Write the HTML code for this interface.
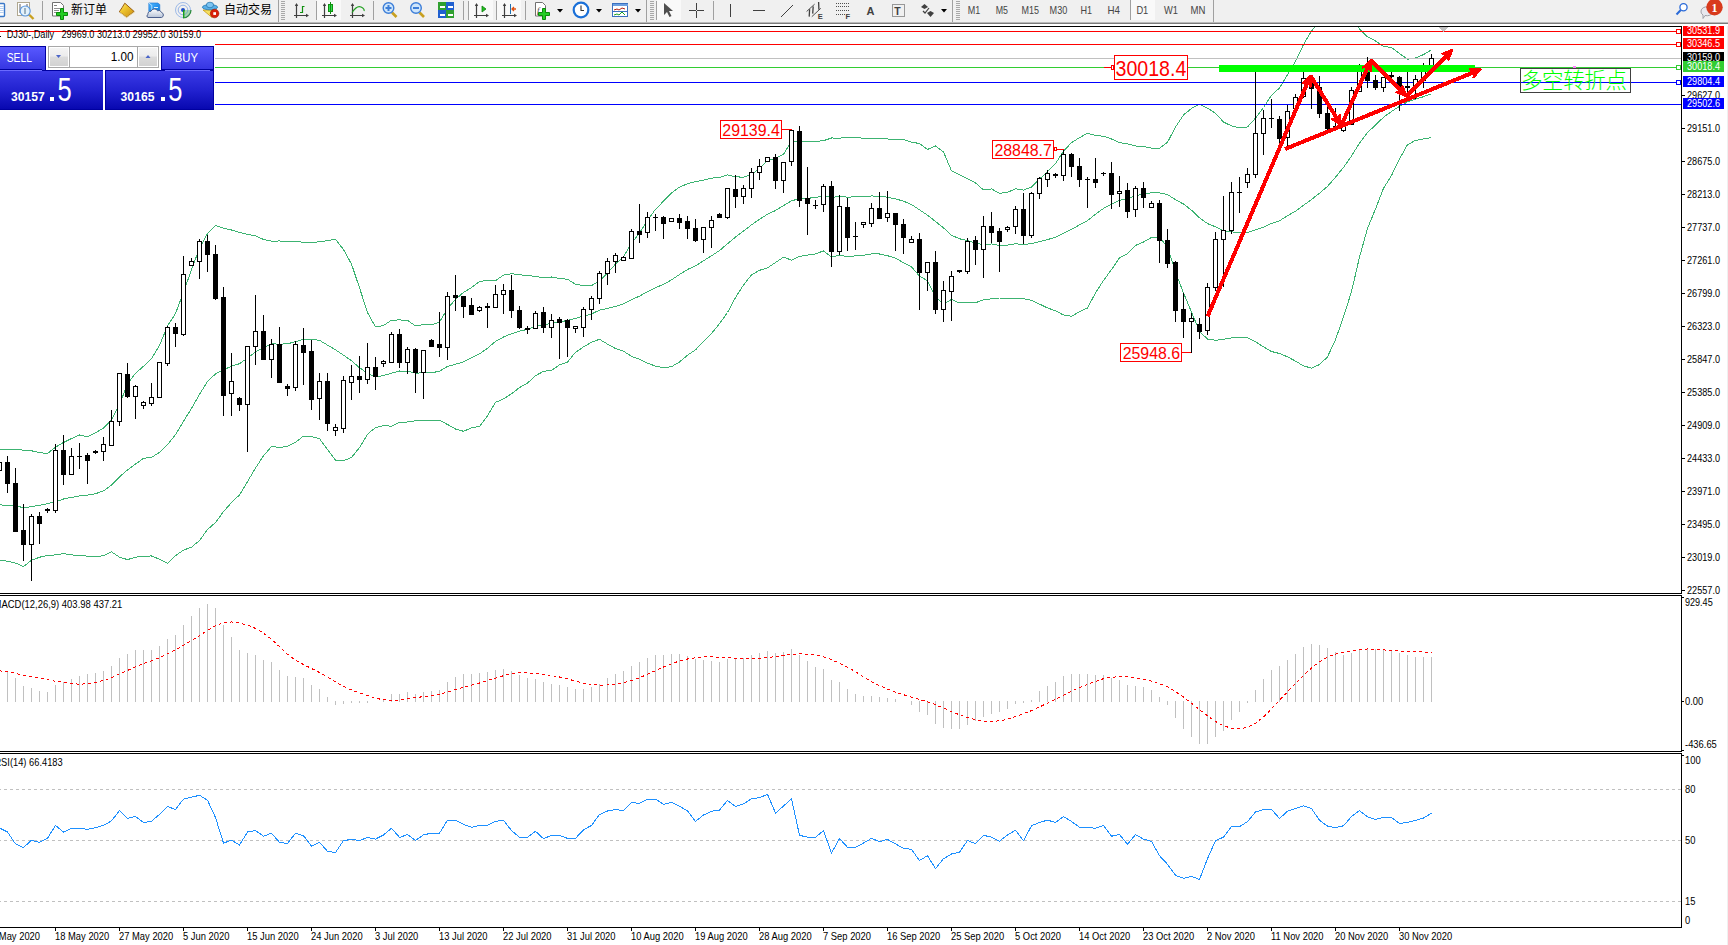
<!DOCTYPE html>
<html><head><meta charset="utf-8"><title>DJ30-,Daily</title>
<style>html,body{margin:0;padding:0;background:#fff;overflow:hidden}svg{display:block}text{white-space:pre}</style>
</head><body>
<svg width="1728" height="945" viewBox="0 0 1728 945">
<defs>
<clipPath id="cm"><rect x="0" y="27" width="1681" height="566"/></clipPath>
<clipPath id="cmacd"><rect x="0" y="596" width="1681" height="155"/></clipPath>
<clipPath id="crsi"><rect x="0" y="754" width="1681" height="173"/></clipPath>
</defs>
<rect x="0" y="0" width="1728" height="945" fill="#ffffff"/>
<g clip-path="url(#cm)" shape-rendering="crispEdges">
<polyline points="-0.5,449.0 7.5,449.0 15.5,449.7 23.5,450.1 31.5,450.8 39.5,452.5 47.5,453.6 55.5,447.1 63.5,442.5 71.5,438.5 79.5,435.0 87.5,436.9 95.5,432.7 103.5,428.0 111.5,419.9 119.5,404.7 127.5,383.8 135.5,373.3 143.5,366.3 151.5,358.7 159.5,345.5 167.5,325.9 175.5,313.6 183.5,292.2 191.5,269.6 199.5,248.1 207.5,233.5 215.5,225.3 223.5,228.3 231.5,230.0 239.5,232.4 247.5,234.3 255.5,235.8 263.5,239.5 271.5,241.1 279.5,241.0 287.5,241.3 295.5,241.1 303.5,242.4 311.5,242.2 319.5,241.9 327.5,240.5 335.5,239.4 343.5,249.5 351.5,264.1 359.5,287.8 367.5,312.5 375.5,326.9 383.5,325.5 391.5,320.2 399.5,319.9 407.5,320.4 415.5,325.8 423.5,324.7 431.5,324.9 439.5,322.1 447.5,308.5 455.5,299.4 463.5,292.4 471.5,287.5 479.5,281.5 487.5,280.5 495.5,280.7 503.5,275.1 511.5,273.7 519.5,274.8 527.5,275.4 535.5,276.5 543.5,277.6 551.5,277.0 559.5,278.5 567.5,279.2 575.5,284.3 583.5,285.5 591.5,285.5 599.5,281.1 607.5,272.8 615.5,264.1 623.5,256.6 631.5,243.3 639.5,233.0 647.5,220.2 655.5,209.3 663.5,201.2 671.5,192.9 679.5,187.1 687.5,183.7 695.5,181.7 703.5,180.2 711.5,178.1 719.5,177.5 727.5,174.8 735.5,176.8 743.5,177.2 751.5,174.7 759.5,168.5 767.5,160.5 775.5,158.5 783.5,154.3 791.5,141.2 799.5,141.5 807.5,141.4 815.5,141.4 823.5,140.7 831.5,138.0 839.5,138.1 847.5,137.5 855.5,137.8 863.5,138.1 871.5,138.2 879.5,138.2 887.5,139.0 895.5,139.3 903.5,139.6 911.5,142.2 919.5,143.5 927.5,149.4 935.5,146.0 943.5,151.9 951.5,170.9 959.5,174.7 967.5,178.6 975.5,182.9 983.5,190.0 991.5,188.9 999.5,193.3 1007.5,192.3 1015.5,188.8 1023.5,190.1 1031.5,187.1 1039.5,179.2 1047.5,171.3 1055.5,163.6 1063.5,151.2 1071.5,142.6 1079.5,137.7 1087.5,133.2 1095.5,135.5 1103.5,136.2 1111.5,139.0 1119.5,142.6 1127.5,143.9 1135.5,146.0 1143.5,146.6 1151.5,148.1 1159.5,148.2 1167.5,142.3 1175.5,127.1 1183.5,115.0 1191.5,108.4 1199.5,104.3 1207.5,108.1 1215.5,113.3 1223.5,122.0 1231.5,125.9 1239.5,127.7 1247.5,127.0 1255.5,118.1 1263.5,107.5 1271.5,95.3 1279.5,88.0 1287.5,74.8 1295.5,61.3 1303.5,44.6 1311.5,31.0 1319.5,21.7 1327.5,15.9 1335.5,14.8 1343.5,17.9 1351.5,20.3 1359.5,28.8 1367.5,36.8 1375.5,40.9 1383.5,46.4 1391.5,47.5 1399.5,53.5 1407.5,59.2 1415.5,58.0 1423.5,54.6 1431.5,49.8" fill="none" stroke="#3cb371" stroke-width="1"/>
<polyline points="-0.5,504.9 7.5,505.3 15.5,506.0 23.5,507.6 31.5,506.7 39.5,505.3 47.5,503.7 55.5,501.8 63.5,499.0 71.5,497.4 79.5,496.0 87.5,495.1 95.5,493.7 103.5,490.9 111.5,485.1 119.5,476.9 127.5,469.9 135.5,464.1 143.5,458.3 151.5,457.4 159.5,452.4 167.5,444.6 175.5,434.6 183.5,421.2 191.5,408.4 199.5,394.3 207.5,381.5 215.5,373.9 223.5,369.9 231.5,366.2 239.5,363.7 247.5,358.0 255.5,351.9 263.5,347.6 271.5,343.8 279.5,344.2 287.5,343.8 295.5,341.7 303.5,339.2 311.5,339.3 319.5,340.3 327.5,345.1 335.5,349.8 343.5,355.1 351.5,360.8 359.5,367.7 367.5,373.3 375.5,377.2 383.5,375.5 391.5,373.2 399.5,371.0 407.5,371.2 415.5,373.2 423.5,372.8 431.5,372.9 439.5,371.1 447.5,366.5 455.5,364.2 463.5,361.9 471.5,357.6 479.5,353.9 487.5,348.2 495.5,341.5 503.5,337.0 511.5,333.7 519.5,331.2 527.5,329.3 535.5,326.1 543.5,324.4 551.5,323.7 559.5,321.7 567.5,320.6 575.5,318.3 583.5,316.2 591.5,313.9 599.5,310.2 607.5,308.4 615.5,306.4 623.5,303.9 631.5,299.8 639.5,296.1 647.5,291.6 655.5,287.7 663.5,284.4 671.5,279.8 679.5,274.5 687.5,269.5 695.5,265.8 703.5,260.8 711.5,255.8 719.5,250.6 727.5,243.7 735.5,237.1 743.5,231.1 751.5,224.8 759.5,219.4 767.5,214.2 775.5,210.5 783.5,205.7 791.5,200.7 799.5,198.9 807.5,198.2 815.5,197.7 823.5,195.8 831.5,197.4 839.5,196.6 847.5,197.1 855.5,196.9 863.5,196.6 871.5,196.0 879.5,196.1 887.5,197.3 895.5,198.8 903.5,201.2 911.5,204.5 919.5,209.8 927.5,215.1 935.5,221.5 943.5,227.9 951.5,235.2 959.5,238.8 967.5,240.6 975.5,242.9 983.5,244.8 991.5,243.9 999.5,245.6 1007.5,245.1 1015.5,243.8 1023.5,244.4 1031.5,243.7 1039.5,241.7 1047.5,239.6 1055.5,237.2 1063.5,233.1 1071.5,229.4 1079.5,224.8 1087.5,220.6 1095.5,214.2 1103.5,208.4 1111.5,204.3 1119.5,200.3 1127.5,198.8 1135.5,195.7 1143.5,194.3 1151.5,192.8 1159.5,192.8 1167.5,194.6 1175.5,199.7 1183.5,204.0 1191.5,210.2 1199.5,217.8 1207.5,223.6 1215.5,226.8 1223.5,230.6 1231.5,231.9 1239.5,232.6 1247.5,232.4 1255.5,229.9 1263.5,227.2 1271.5,223.4 1279.5,220.8 1287.5,215.8 1295.5,211.2 1303.5,205.3 1311.5,199.5 1319.5,193.2 1327.5,186.4 1335.5,177.2 1343.5,167.4 1351.5,156.0 1359.5,143.0 1367.5,132.6 1375.5,125.0 1383.5,117.3 1391.5,111.5 1399.5,106.3 1407.5,101.9 1415.5,99.2 1423.5,96.7 1431.5,93.7" fill="none" stroke="#3cb371" stroke-width="1"/>
<polyline points="-0.5,560.3 7.5,561.2 15.5,563.1 23.5,566.5 31.5,560.3 39.5,557.2 47.5,555.6 55.5,554.9 63.5,553.7 71.5,554.9 79.5,555.6 87.5,556.1 95.5,556.8 103.5,555.6 111.5,551.9 119.5,557.2 127.5,559.6 135.5,557.2 143.5,556.1 151.5,556.0 159.5,559.2 167.5,563.2 175.5,555.7 183.5,550.1 191.5,547.2 199.5,540.5 207.5,529.5 215.5,522.5 223.5,511.6 231.5,502.5 239.5,494.9 247.5,481.6 255.5,468.1 263.5,455.8 271.5,446.5 279.5,447.5 287.5,446.3 295.5,442.3 303.5,436.1 311.5,436.5 319.5,438.6 327.5,449.6 335.5,460.1 343.5,460.6 351.5,457.5 359.5,447.6 367.5,434.2 375.5,427.5 383.5,425.6 391.5,426.2 399.5,422.2 407.5,422.0 415.5,420.7 423.5,420.9 431.5,420.9 439.5,420.1 447.5,424.5 455.5,429.0 463.5,431.3 471.5,427.8 479.5,426.4 487.5,415.8 495.5,402.4 503.5,398.9 511.5,393.8 519.5,387.6 527.5,383.1 535.5,375.7 543.5,371.3 551.5,370.4 559.5,364.9 567.5,362.0 575.5,352.3 583.5,346.9 591.5,342.2 599.5,339.3 607.5,344.1 615.5,348.6 623.5,351.2 631.5,356.3 639.5,359.3 647.5,363.1 655.5,366.2 663.5,367.6 671.5,366.7 679.5,362.0 687.5,355.2 695.5,349.9 703.5,341.5 711.5,333.5 719.5,323.7 727.5,312.5 735.5,297.5 743.5,285.0 751.5,274.9 759.5,270.3 767.5,267.9 775.5,262.5 783.5,257.1 791.5,260.1 799.5,256.4 807.5,255.1 815.5,253.9 823.5,250.9 831.5,256.9 839.5,255.2 847.5,256.6 855.5,255.9 863.5,255.2 871.5,253.9 879.5,254.0 887.5,255.7 895.5,258.2 903.5,262.7 911.5,266.8 919.5,276.2 927.5,280.7 935.5,296.9 943.5,304.0 951.5,299.5 959.5,302.9 967.5,302.7 975.5,302.8 983.5,299.7 991.5,298.9 999.5,298.0 1007.5,298.0 1015.5,298.7 1023.5,298.7 1031.5,300.2 1039.5,304.1 1047.5,307.9 1055.5,310.8 1063.5,315.0 1071.5,316.2 1079.5,311.8 1087.5,308.0 1095.5,292.9 1103.5,280.5 1111.5,269.6 1119.5,257.9 1127.5,253.6 1135.5,245.4 1143.5,242.0 1151.5,237.5 1159.5,237.4 1167.5,246.9 1175.5,272.2 1183.5,292.9 1191.5,312.0 1199.5,331.4 1207.5,339.1 1215.5,340.3 1223.5,339.2 1231.5,338.0 1239.5,337.5 1247.5,337.7 1255.5,341.8 1263.5,346.9 1271.5,351.5 1279.5,353.5 1287.5,356.8 1295.5,361.1 1303.5,365.9 1311.5,368.1 1319.5,364.6 1327.5,356.9 1335.5,339.6 1343.5,316.9 1351.5,291.7 1359.5,257.1 1367.5,228.4 1375.5,209.0 1383.5,188.3 1391.5,175.5 1399.5,159.0 1407.5,144.7 1415.5,140.4 1423.5,138.9 1431.5,137.7" fill="none" stroke="#3cb371" stroke-width="1"/>
<rect x="0" y="31" width="1681" height="1" fill="#ff0000"/>
<rect x="0" y="44" width="1681" height="1" fill="#ff0000"/>
<rect x="0" y="58" width="1681" height="1" fill="#c0c0c0"/>
<rect x="0" y="67" width="1681" height="1" fill="#32cd32"/>
<rect x="0" y="82" width="1681" height="1" fill="#0000ff"/>
<rect x="0" y="104" width="1681" height="1" fill="#0000ff"/>
<rect x="-1" y="462" width="1" height="10" fill="#000"/>
<rect x="-3" y="462" width="5" height="9" fill="#000"/>
<rect x="-2" y="463" width="3" height="7" fill="#fff"/>
<rect x="7" y="456" width="1" height="37" fill="#000"/>
<rect x="5" y="462" width="5" height="22" fill="#000"/>
<rect x="15" y="468" width="1" height="64" fill="#000"/>
<rect x="13" y="483" width="5" height="49" fill="#000"/>
<rect x="23" y="504" width="1" height="57" fill="#000"/>
<rect x="21" y="530" width="5" height="15" fill="#000"/>
<rect x="31" y="514" width="1" height="67" fill="#000"/>
<rect x="29" y="516" width="5" height="29" fill="#000"/>
<rect x="30" y="517" width="3" height="27" fill="#fff"/>
<rect x="39" y="512" width="1" height="32" fill="#000"/>
<rect x="37" y="516" width="5" height="8" fill="#000"/>
<rect x="47" y="508" width="1" height="5" fill="#000"/>
<rect x="45" y="509" width="5" height="2" fill="#000"/>
<rect x="55" y="444" width="1" height="69" fill="#000"/>
<rect x="53" y="450" width="5" height="61" fill="#000"/>
<rect x="54" y="451" width="3" height="59" fill="#fff"/>
<rect x="63" y="435" width="1" height="50" fill="#000"/>
<rect x="61" y="450" width="5" height="25" fill="#000"/>
<rect x="71" y="448" width="1" height="27" fill="#000"/>
<rect x="69" y="456" width="5" height="19" fill="#000"/>
<rect x="70" y="457" width="3" height="17" fill="#fff"/>
<rect x="79" y="443" width="1" height="26" fill="#000"/>
<rect x="77" y="456" width="5" height="1" fill="#000"/>
<rect x="87" y="453" width="1" height="31" fill="#000"/>
<rect x="85" y="455" width="5" height="6" fill="#000"/>
<rect x="95" y="450" width="1" height="4" fill="#000"/>
<rect x="93" y="451" width="5" height="2" fill="#000"/>
<rect x="103" y="437" width="1" height="24" fill="#000"/>
<rect x="101" y="444" width="5" height="8" fill="#000"/>
<rect x="102" y="445" width="3" height="6" fill="#fff"/>
<rect x="111" y="410" width="1" height="36" fill="#000"/>
<rect x="109" y="421" width="5" height="25" fill="#000"/>
<rect x="110" y="422" width="3" height="23" fill="#fff"/>
<rect x="119" y="373" width="1" height="53" fill="#000"/>
<rect x="117" y="373" width="5" height="49" fill="#000"/>
<rect x="118" y="374" width="3" height="47" fill="#fff"/>
<rect x="127" y="363" width="1" height="35" fill="#000"/>
<rect x="125" y="374" width="5" height="23" fill="#000"/>
<rect x="135" y="385" width="1" height="34" fill="#000"/>
<rect x="133" y="386" width="5" height="11" fill="#000"/>
<rect x="134" y="387" width="3" height="9" fill="#fff"/>
<rect x="143" y="401" width="1" height="8" fill="#000"/>
<rect x="141" y="402" width="5" height="4" fill="#000"/>
<rect x="142" y="403" width="3" height="2" fill="#fff"/>
<rect x="151" y="383" width="1" height="23" fill="#000"/>
<rect x="149" y="397" width="5" height="7" fill="#000"/>
<rect x="150" y="398" width="3" height="5" fill="#fff"/>
<rect x="159" y="362" width="1" height="36" fill="#000"/>
<rect x="157" y="362" width="5" height="36" fill="#000"/>
<rect x="158" y="363" width="3" height="34" fill="#fff"/>
<rect x="167" y="326" width="1" height="40" fill="#000"/>
<rect x="165" y="327" width="5" height="37" fill="#000"/>
<rect x="166" y="328" width="3" height="35" fill="#fff"/>
<rect x="175" y="323" width="1" height="24" fill="#000"/>
<rect x="173" y="327" width="5" height="7" fill="#000"/>
<rect x="183" y="256" width="1" height="80" fill="#000"/>
<rect x="181" y="274" width="5" height="61" fill="#000"/>
<rect x="182" y="275" width="3" height="59" fill="#fff"/>
<rect x="191" y="258" width="1" height="8" fill="#000"/>
<rect x="189" y="261" width="5" height="5" fill="#000"/>
<rect x="190" y="262" width="3" height="3" fill="#fff"/>
<rect x="199" y="239" width="1" height="40" fill="#000"/>
<rect x="197" y="241" width="5" height="21" fill="#000"/>
<rect x="198" y="242" width="3" height="19" fill="#fff"/>
<rect x="207" y="235" width="1" height="37" fill="#000"/>
<rect x="205" y="241" width="5" height="14" fill="#000"/>
<rect x="215" y="245" width="1" height="55" fill="#000"/>
<rect x="213" y="254" width="5" height="45" fill="#000"/>
<rect x="223" y="287" width="1" height="129" fill="#000"/>
<rect x="221" y="297" width="5" height="99" fill="#000"/>
<rect x="231" y="353" width="1" height="63" fill="#000"/>
<rect x="229" y="381" width="5" height="13" fill="#000"/>
<rect x="230" y="382" width="3" height="11" fill="#fff"/>
<rect x="239" y="397" width="1" height="14" fill="#000"/>
<rect x="237" y="398" width="5" height="7" fill="#000"/>
<rect x="247" y="346" width="1" height="106" fill="#000"/>
<rect x="245" y="346" width="5" height="59" fill="#000"/>
<rect x="246" y="347" width="3" height="57" fill="#fff"/>
<rect x="255" y="295" width="1" height="70" fill="#000"/>
<rect x="253" y="331" width="5" height="16" fill="#000"/>
<rect x="254" y="332" width="3" height="14" fill="#fff"/>
<rect x="263" y="315" width="1" height="45" fill="#000"/>
<rect x="261" y="331" width="5" height="29" fill="#000"/>
<rect x="271" y="339" width="1" height="39" fill="#000"/>
<rect x="269" y="344" width="5" height="16" fill="#000"/>
<rect x="270" y="345" width="3" height="14" fill="#fff"/>
<rect x="279" y="327" width="1" height="56" fill="#000"/>
<rect x="277" y="344" width="5" height="39" fill="#000"/>
<rect x="287" y="384" width="1" height="12" fill="#000"/>
<rect x="285" y="386" width="5" height="3" fill="#000"/>
<rect x="295" y="341" width="1" height="50" fill="#000"/>
<rect x="293" y="344" width="5" height="44" fill="#000"/>
<rect x="294" y="345" width="3" height="42" fill="#fff"/>
<rect x="303" y="328" width="1" height="57" fill="#000"/>
<rect x="301" y="345" width="5" height="8" fill="#000"/>
<rect x="311" y="340" width="1" height="70" fill="#000"/>
<rect x="309" y="351" width="5" height="49" fill="#000"/>
<rect x="319" y="373" width="1" height="47" fill="#000"/>
<rect x="317" y="381" width="5" height="18" fill="#000"/>
<rect x="318" y="382" width="3" height="16" fill="#fff"/>
<rect x="327" y="373" width="1" height="58" fill="#000"/>
<rect x="325" y="381" width="5" height="43" fill="#000"/>
<rect x="335" y="424" width="1" height="12" fill="#000"/>
<rect x="333" y="427" width="5" height="4" fill="#000"/>
<rect x="334" y="428" width="3" height="2" fill="#fff"/>
<rect x="343" y="376" width="1" height="57" fill="#000"/>
<rect x="341" y="380" width="5" height="49" fill="#000"/>
<rect x="342" y="381" width="3" height="47" fill="#fff"/>
<rect x="351" y="365" width="1" height="35" fill="#000"/>
<rect x="349" y="376" width="5" height="7" fill="#000"/>
<rect x="350" y="377" width="3" height="5" fill="#fff"/>
<rect x="359" y="356" width="1" height="37" fill="#000"/>
<rect x="357" y="376" width="5" height="4" fill="#000"/>
<rect x="367" y="343" width="1" height="41" fill="#000"/>
<rect x="365" y="367" width="5" height="13" fill="#000"/>
<rect x="366" y="368" width="3" height="11" fill="#fff"/>
<rect x="375" y="357" width="1" height="33" fill="#000"/>
<rect x="373" y="367" width="5" height="10" fill="#000"/>
<rect x="383" y="360" width="1" height="7" fill="#000"/>
<rect x="381" y="361" width="5" height="3" fill="#000"/>
<rect x="382" y="362" width="3" height="1" fill="#fff"/>
<rect x="391" y="332" width="1" height="31" fill="#000"/>
<rect x="389" y="334" width="5" height="29" fill="#000"/>
<rect x="390" y="335" width="3" height="27" fill="#fff"/>
<rect x="399" y="329" width="1" height="39" fill="#000"/>
<rect x="397" y="334" width="5" height="29" fill="#000"/>
<rect x="407" y="347" width="1" height="27" fill="#000"/>
<rect x="405" y="349" width="5" height="14" fill="#000"/>
<rect x="406" y="350" width="3" height="12" fill="#fff"/>
<rect x="415" y="348" width="1" height="45" fill="#000"/>
<rect x="413" y="349" width="5" height="24" fill="#000"/>
<rect x="423" y="350" width="1" height="49" fill="#000"/>
<rect x="421" y="350" width="5" height="23" fill="#000"/>
<rect x="422" y="351" width="3" height="21" fill="#fff"/>
<rect x="431" y="339" width="1" height="8" fill="#000"/>
<rect x="429" y="340" width="5" height="7" fill="#000"/>
<rect x="439" y="312" width="1" height="45" fill="#000"/>
<rect x="437" y="344" width="5" height="4" fill="#000"/>
<rect x="447" y="292" width="1" height="68" fill="#000"/>
<rect x="445" y="296" width="5" height="52" fill="#000"/>
<rect x="446" y="297" width="3" height="50" fill="#fff"/>
<rect x="455" y="275" width="1" height="36" fill="#000"/>
<rect x="453" y="295" width="5" height="3" fill="#000"/>
<rect x="463" y="296" width="1" height="22" fill="#000"/>
<rect x="461" y="296" width="5" height="11" fill="#000"/>
<rect x="471" y="298" width="1" height="17" fill="#000"/>
<rect x="469" y="305" width="5" height="10" fill="#000"/>
<rect x="479" y="306" width="1" height="6" fill="#000"/>
<rect x="477" y="307" width="5" height="4" fill="#000"/>
<rect x="478" y="308" width="3" height="2" fill="#fff"/>
<rect x="487" y="303" width="1" height="25" fill="#000"/>
<rect x="485" y="306" width="5" height="2" fill="#000"/>
<rect x="495" y="285" width="1" height="23" fill="#000"/>
<rect x="493" y="294" width="5" height="14" fill="#000"/>
<rect x="494" y="295" width="3" height="12" fill="#fff"/>
<rect x="503" y="284" width="1" height="30" fill="#000"/>
<rect x="501" y="290" width="5" height="5" fill="#000"/>
<rect x="502" y="291" width="3" height="3" fill="#fff"/>
<rect x="511" y="275" width="1" height="43" fill="#000"/>
<rect x="509" y="290" width="5" height="21" fill="#000"/>
<rect x="519" y="306" width="1" height="23" fill="#000"/>
<rect x="517" y="310" width="5" height="18" fill="#000"/>
<rect x="527" y="326" width="1" height="8" fill="#000"/>
<rect x="525" y="328" width="5" height="2" fill="#000"/>
<rect x="535" y="311" width="1" height="18" fill="#000"/>
<rect x="533" y="313" width="5" height="16" fill="#000"/>
<rect x="534" y="314" width="3" height="14" fill="#fff"/>
<rect x="543" y="307" width="1" height="26" fill="#000"/>
<rect x="541" y="312" width="5" height="16" fill="#000"/>
<rect x="551" y="314" width="1" height="24" fill="#000"/>
<rect x="549" y="320" width="5" height="8" fill="#000"/>
<rect x="550" y="321" width="3" height="6" fill="#fff"/>
<rect x="559" y="317" width="1" height="42" fill="#000"/>
<rect x="557" y="319" width="5" height="4" fill="#000"/>
<rect x="567" y="319" width="1" height="38" fill="#000"/>
<rect x="565" y="320" width="5" height="8" fill="#000"/>
<rect x="575" y="326" width="1" height="7" fill="#000"/>
<rect x="573" y="326" width="5" height="3" fill="#000"/>
<rect x="574" y="327" width="3" height="1" fill="#fff"/>
<rect x="583" y="307" width="1" height="30" fill="#000"/>
<rect x="581" y="309" width="5" height="19" fill="#000"/>
<rect x="582" y="310" width="3" height="17" fill="#fff"/>
<rect x="591" y="296" width="1" height="24" fill="#000"/>
<rect x="589" y="298" width="5" height="12" fill="#000"/>
<rect x="590" y="299" width="3" height="10" fill="#fff"/>
<rect x="599" y="271" width="1" height="33" fill="#000"/>
<rect x="597" y="273" width="5" height="26" fill="#000"/>
<rect x="598" y="274" width="3" height="24" fill="#fff"/>
<rect x="607" y="258" width="1" height="27" fill="#000"/>
<rect x="605" y="261" width="5" height="13" fill="#000"/>
<rect x="606" y="262" width="3" height="11" fill="#fff"/>
<rect x="615" y="253" width="1" height="20" fill="#000"/>
<rect x="613" y="255" width="5" height="7" fill="#000"/>
<rect x="614" y="256" width="3" height="5" fill="#fff"/>
<rect x="623" y="256" width="1" height="5" fill="#000"/>
<rect x="621" y="257" width="5" height="4" fill="#000"/>
<rect x="622" y="258" width="3" height="2" fill="#fff"/>
<rect x="631" y="229" width="1" height="30" fill="#000"/>
<rect x="629" y="231" width="5" height="28" fill="#000"/>
<rect x="630" y="232" width="3" height="26" fill="#fff"/>
<rect x="639" y="204" width="1" height="39" fill="#000"/>
<rect x="637" y="231" width="5" height="4" fill="#000"/>
<rect x="647" y="212" width="1" height="26" fill="#000"/>
<rect x="645" y="217" width="5" height="16" fill="#000"/>
<rect x="646" y="218" width="3" height="14" fill="#fff"/>
<rect x="655" y="214" width="1" height="17" fill="#000"/>
<rect x="653" y="217" width="5" height="1" fill="#000"/>
<rect x="663" y="216" width="1" height="23" fill="#000"/>
<rect x="661" y="217" width="5" height="7" fill="#000"/>
<rect x="671" y="218" width="1" height="4" fill="#000"/>
<rect x="669" y="218" width="5" height="4" fill="#000"/>
<rect x="670" y="219" width="3" height="2" fill="#fff"/>
<rect x="679" y="214" width="1" height="15" fill="#000"/>
<rect x="677" y="218" width="5" height="5" fill="#000"/>
<rect x="687" y="216" width="1" height="23" fill="#000"/>
<rect x="685" y="221" width="5" height="8" fill="#000"/>
<rect x="695" y="219" width="1" height="23" fill="#000"/>
<rect x="693" y="228" width="5" height="13" fill="#000"/>
<rect x="703" y="227" width="1" height="26" fill="#000"/>
<rect x="701" y="227" width="5" height="13" fill="#000"/>
<rect x="702" y="228" width="3" height="11" fill="#fff"/>
<rect x="711" y="216" width="1" height="32" fill="#000"/>
<rect x="709" y="220" width="5" height="8" fill="#000"/>
<rect x="710" y="221" width="3" height="6" fill="#fff"/>
<rect x="719" y="213" width="1" height="5" fill="#000"/>
<rect x="717" y="214" width="5" height="4" fill="#000"/>
<rect x="727" y="188" width="1" height="31" fill="#000"/>
<rect x="725" y="188" width="5" height="30" fill="#000"/>
<rect x="726" y="189" width="3" height="28" fill="#fff"/>
<rect x="735" y="175" width="1" height="33" fill="#000"/>
<rect x="733" y="189" width="5" height="8" fill="#000"/>
<rect x="743" y="185" width="1" height="19" fill="#000"/>
<rect x="741" y="188" width="5" height="9" fill="#000"/>
<rect x="742" y="189" width="3" height="7" fill="#fff"/>
<rect x="751" y="168" width="1" height="30" fill="#000"/>
<rect x="749" y="172" width="5" height="17" fill="#000"/>
<rect x="750" y="173" width="3" height="15" fill="#fff"/>
<rect x="759" y="159" width="1" height="21" fill="#000"/>
<rect x="757" y="166" width="5" height="7" fill="#000"/>
<rect x="758" y="167" width="3" height="5" fill="#fff"/>
<rect x="767" y="157" width="1" height="5" fill="#000"/>
<rect x="765" y="157" width="5" height="5" fill="#000"/>
<rect x="766" y="158" width="3" height="3" fill="#fff"/>
<rect x="775" y="154" width="1" height="35" fill="#000"/>
<rect x="773" y="157" width="5" height="24" fill="#000"/>
<rect x="783" y="162" width="1" height="31" fill="#000"/>
<rect x="781" y="162" width="5" height="19" fill="#000"/>
<rect x="782" y="163" width="3" height="17" fill="#fff"/>
<rect x="791" y="129" width="1" height="37" fill="#000"/>
<rect x="789" y="130" width="5" height="32" fill="#000"/>
<rect x="790" y="131" width="3" height="30" fill="#fff"/>
<rect x="799" y="126" width="1" height="81" fill="#000"/>
<rect x="797" y="131" width="5" height="70" fill="#000"/>
<rect x="807" y="167" width="1" height="68" fill="#000"/>
<rect x="805" y="198" width="5" height="6" fill="#000"/>
<rect x="815" y="200" width="1" height="9" fill="#000"/>
<rect x="813" y="205" width="5" height="1" fill="#000"/>
<rect x="823" y="184" width="1" height="28" fill="#000"/>
<rect x="821" y="186" width="5" height="19" fill="#000"/>
<rect x="822" y="187" width="3" height="17" fill="#fff"/>
<rect x="831" y="181" width="1" height="86" fill="#000"/>
<rect x="829" y="186" width="5" height="66" fill="#000"/>
<rect x="839" y="195" width="1" height="60" fill="#000"/>
<rect x="837" y="206" width="5" height="46" fill="#000"/>
<rect x="838" y="207" width="3" height="44" fill="#fff"/>
<rect x="847" y="198" width="1" height="53" fill="#000"/>
<rect x="845" y="207" width="5" height="31" fill="#000"/>
<rect x="855" y="222" width="1" height="28" fill="#000"/>
<rect x="853" y="236" width="5" height="1" fill="#000"/>
<rect x="863" y="222" width="1" height="6" fill="#000"/>
<rect x="861" y="222" width="5" height="3" fill="#000"/>
<rect x="862" y="223" width="3" height="1" fill="#fff"/>
<rect x="871" y="203" width="1" height="24" fill="#000"/>
<rect x="869" y="208" width="5" height="16" fill="#000"/>
<rect x="870" y="209" width="3" height="14" fill="#fff"/>
<rect x="879" y="192" width="1" height="27" fill="#000"/>
<rect x="877" y="208" width="5" height="11" fill="#000"/>
<rect x="887" y="191" width="1" height="31" fill="#000"/>
<rect x="885" y="213" width="5" height="5" fill="#000"/>
<rect x="886" y="214" width="3" height="3" fill="#fff"/>
<rect x="895" y="213" width="1" height="38" fill="#000"/>
<rect x="893" y="213" width="5" height="12" fill="#000"/>
<rect x="903" y="219" width="1" height="35" fill="#000"/>
<rect x="901" y="224" width="5" height="14" fill="#000"/>
<rect x="911" y="236" width="1" height="7" fill="#000"/>
<rect x="909" y="239" width="5" height="4" fill="#000"/>
<rect x="910" y="240" width="3" height="2" fill="#fff"/>
<rect x="919" y="233" width="1" height="77" fill="#000"/>
<rect x="917" y="239" width="5" height="34" fill="#000"/>
<rect x="927" y="262" width="1" height="29" fill="#000"/>
<rect x="925" y="262" width="5" height="11" fill="#000"/>
<rect x="926" y="263" width="3" height="9" fill="#fff"/>
<rect x="935" y="251" width="1" height="63" fill="#000"/>
<rect x="933" y="262" width="5" height="48" fill="#000"/>
<rect x="943" y="281" width="1" height="41" fill="#000"/>
<rect x="941" y="290" width="5" height="20" fill="#000"/>
<rect x="942" y="291" width="3" height="18" fill="#fff"/>
<rect x="951" y="271" width="1" height="50" fill="#000"/>
<rect x="949" y="276" width="5" height="16" fill="#000"/>
<rect x="950" y="277" width="3" height="14" fill="#fff"/>
<rect x="959" y="270" width="1" height="3" fill="#000"/>
<rect x="957" y="270" width="5" height="2" fill="#000"/>
<rect x="967" y="238" width="1" height="36" fill="#000"/>
<rect x="965" y="241" width="5" height="31" fill="#000"/>
<rect x="966" y="242" width="3" height="29" fill="#fff"/>
<rect x="975" y="236" width="1" height="29" fill="#000"/>
<rect x="973" y="240" width="5" height="10" fill="#000"/>
<rect x="983" y="216" width="1" height="62" fill="#000"/>
<rect x="981" y="226" width="5" height="24" fill="#000"/>
<rect x="982" y="227" width="3" height="22" fill="#fff"/>
<rect x="991" y="212" width="1" height="31" fill="#000"/>
<rect x="989" y="226" width="5" height="7" fill="#000"/>
<rect x="999" y="228" width="1" height="44" fill="#000"/>
<rect x="997" y="231" width="5" height="11" fill="#000"/>
<rect x="1007" y="226" width="1" height="6" fill="#000"/>
<rect x="1005" y="227" width="5" height="3" fill="#000"/>
<rect x="1006" y="228" width="3" height="1" fill="#fff"/>
<rect x="1015" y="206" width="1" height="28" fill="#000"/>
<rect x="1013" y="209" width="5" height="18" fill="#000"/>
<rect x="1014" y="210" width="3" height="16" fill="#fff"/>
<rect x="1023" y="193" width="1" height="51" fill="#000"/>
<rect x="1021" y="209" width="5" height="27" fill="#000"/>
<rect x="1031" y="192" width="1" height="46" fill="#000"/>
<rect x="1029" y="193" width="5" height="43" fill="#000"/>
<rect x="1030" y="194" width="3" height="41" fill="#fff"/>
<rect x="1039" y="177" width="1" height="22" fill="#000"/>
<rect x="1037" y="178" width="5" height="16" fill="#000"/>
<rect x="1038" y="179" width="3" height="14" fill="#fff"/>
<rect x="1047" y="170" width="1" height="17" fill="#000"/>
<rect x="1045" y="173" width="5" height="7" fill="#000"/>
<rect x="1046" y="174" width="3" height="5" fill="#fff"/>
<rect x="1055" y="173" width="1" height="5" fill="#000"/>
<rect x="1053" y="174" width="5" height="2" fill="#000"/>
<rect x="1063" y="150" width="1" height="31" fill="#000"/>
<rect x="1061" y="154" width="5" height="22" fill="#000"/>
<rect x="1062" y="155" width="3" height="20" fill="#fff"/>
<rect x="1071" y="153" width="1" height="24" fill="#000"/>
<rect x="1069" y="154" width="5" height="13" fill="#000"/>
<rect x="1079" y="158" width="1" height="29" fill="#000"/>
<rect x="1077" y="166" width="5" height="14" fill="#000"/>
<rect x="1087" y="177" width="1" height="31" fill="#000"/>
<rect x="1085" y="179" width="5" height="1" fill="#000"/>
<rect x="1095" y="158" width="1" height="30" fill="#000"/>
<rect x="1093" y="179" width="5" height="4" fill="#000"/>
<rect x="1103" y="172" width="1" height="4" fill="#000"/>
<rect x="1101" y="173" width="5" height="1" fill="#000"/>
<rect x="1111" y="162" width="1" height="47" fill="#000"/>
<rect x="1109" y="173" width="5" height="22" fill="#000"/>
<rect x="1119" y="176" width="1" height="31" fill="#000"/>
<rect x="1117" y="191" width="5" height="3" fill="#000"/>
<rect x="1118" y="192" width="3" height="1" fill="#fff"/>
<rect x="1127" y="183" width="1" height="35" fill="#000"/>
<rect x="1125" y="190" width="5" height="22" fill="#000"/>
<rect x="1135" y="186" width="1" height="31" fill="#000"/>
<rect x="1133" y="188" width="5" height="22" fill="#000"/>
<rect x="1134" y="189" width="3" height="20" fill="#fff"/>
<rect x="1143" y="182" width="1" height="26" fill="#000"/>
<rect x="1141" y="188" width="5" height="10" fill="#000"/>
<rect x="1151" y="201" width="1" height="7" fill="#000"/>
<rect x="1149" y="203" width="5" height="5" fill="#000"/>
<rect x="1150" y="204" width="3" height="3" fill="#fff"/>
<rect x="1159" y="200" width="1" height="63" fill="#000"/>
<rect x="1157" y="203" width="5" height="38" fill="#000"/>
<rect x="1167" y="229" width="1" height="39" fill="#000"/>
<rect x="1165" y="240" width="5" height="24" fill="#000"/>
<rect x="1175" y="261" width="1" height="61" fill="#000"/>
<rect x="1173" y="262" width="5" height="49" fill="#000"/>
<rect x="1183" y="293" width="1" height="45" fill="#000"/>
<rect x="1181" y="309" width="5" height="13" fill="#000"/>
<rect x="1191" y="313" width="1" height="40" fill="#000"/>
<rect x="1189" y="318" width="5" height="4" fill="#000"/>
<rect x="1190" y="319" width="3" height="2" fill="#fff"/>
<rect x="1199" y="318" width="1" height="21" fill="#000"/>
<rect x="1197" y="324" width="5" height="8" fill="#000"/>
<rect x="1207" y="283" width="1" height="52" fill="#000"/>
<rect x="1205" y="287" width="5" height="44" fill="#000"/>
<rect x="1206" y="288" width="3" height="42" fill="#fff"/>
<rect x="1215" y="232" width="1" height="59" fill="#000"/>
<rect x="1213" y="239" width="5" height="49" fill="#000"/>
<rect x="1214" y="240" width="3" height="47" fill="#fff"/>
<rect x="1223" y="196" width="1" height="91" fill="#000"/>
<rect x="1221" y="230" width="5" height="10" fill="#000"/>
<rect x="1222" y="231" width="3" height="8" fill="#fff"/>
<rect x="1231" y="182" width="1" height="52" fill="#000"/>
<rect x="1229" y="192" width="5" height="39" fill="#000"/>
<rect x="1230" y="193" width="3" height="37" fill="#fff"/>
<rect x="1239" y="177" width="1" height="36" fill="#000"/>
<rect x="1237" y="192" width="5" height="1" fill="#000"/>
<rect x="1247" y="168" width="1" height="20" fill="#000"/>
<rect x="1245" y="174" width="5" height="9" fill="#000"/>
<rect x="1246" y="175" width="3" height="7" fill="#fff"/>
<rect x="1255" y="70" width="1" height="108" fill="#000"/>
<rect x="1253" y="133" width="5" height="42" fill="#000"/>
<rect x="1254" y="134" width="3" height="40" fill="#fff"/>
<rect x="1263" y="110" width="1" height="45" fill="#000"/>
<rect x="1261" y="118" width="5" height="16" fill="#000"/>
<rect x="1262" y="119" width="3" height="14" fill="#fff"/>
<rect x="1271" y="99" width="1" height="29" fill="#000"/>
<rect x="1269" y="118" width="5" height="1" fill="#000"/>
<rect x="1279" y="116" width="1" height="29" fill="#000"/>
<rect x="1277" y="119" width="5" height="20" fill="#000"/>
<rect x="1287" y="105" width="1" height="44" fill="#000"/>
<rect x="1285" y="111" width="5" height="27" fill="#000"/>
<rect x="1286" y="112" width="3" height="25" fill="#fff"/>
<rect x="1295" y="94" width="1" height="16" fill="#000"/>
<rect x="1293" y="97" width="5" height="12" fill="#000"/>
<rect x="1294" y="98" width="3" height="10" fill="#fff"/>
<rect x="1303" y="72" width="1" height="26" fill="#000"/>
<rect x="1301" y="78" width="5" height="19" fill="#000"/>
<rect x="1302" y="79" width="3" height="17" fill="#fff"/>
<rect x="1311" y="76" width="1" height="33" fill="#000"/>
<rect x="1309" y="79" width="5" height="10" fill="#000"/>
<rect x="1319" y="76" width="1" height="42" fill="#000"/>
<rect x="1317" y="87" width="5" height="27" fill="#000"/>
<rect x="1327" y="107" width="1" height="23" fill="#000"/>
<rect x="1325" y="113" width="5" height="16" fill="#000"/>
<rect x="1335" y="108" width="1" height="20" fill="#000"/>
<rect x="1333" y="126" width="5" height="1" fill="#000"/>
<rect x="1343" y="124" width="1" height="8" fill="#000"/>
<rect x="1341" y="126" width="5" height="5" fill="#000"/>
<rect x="1342" y="127" width="3" height="3" fill="#fff"/>
<rect x="1351" y="87" width="1" height="38" fill="#000"/>
<rect x="1349" y="90" width="5" height="35" fill="#000"/>
<rect x="1350" y="91" width="3" height="33" fill="#fff"/>
<rect x="1359" y="64" width="1" height="28" fill="#000"/>
<rect x="1357" y="70" width="5" height="22" fill="#000"/>
<rect x="1358" y="71" width="3" height="20" fill="#fff"/>
<rect x="1367" y="57" width="1" height="31" fill="#000"/>
<rect x="1365" y="68" width="5" height="13" fill="#000"/>
<rect x="1375" y="75" width="1" height="15" fill="#000"/>
<rect x="1373" y="80" width="5" height="8" fill="#000"/>
<rect x="1383" y="77" width="1" height="15" fill="#000"/>
<rect x="1381" y="77" width="5" height="11" fill="#000"/>
<rect x="1382" y="78" width="3" height="9" fill="#fff"/>
<rect x="1391" y="72" width="1" height="8" fill="#000"/>
<rect x="1389" y="75" width="5" height="2" fill="#000"/>
<rect x="1399" y="76" width="1" height="35" fill="#000"/>
<rect x="1397" y="77" width="5" height="11" fill="#000"/>
<rect x="1407" y="72" width="1" height="20" fill="#000"/>
<rect x="1405" y="86" width="5" height="2" fill="#000"/>
<rect x="1415" y="75" width="1" height="24" fill="#000"/>
<rect x="1413" y="79" width="5" height="9" fill="#000"/>
<rect x="1414" y="80" width="3" height="7" fill="#fff"/>
<rect x="1423" y="63" width="1" height="25" fill="#000"/>
<rect x="1421" y="68" width="5" height="13" fill="#000"/>
<rect x="1422" y="69" width="3" height="11" fill="#fff"/>
<rect x="1431" y="54" width="1" height="19" fill="#000"/>
<rect x="1429" y="58" width="5" height="14" fill="#000"/>
<rect x="1430" y="59" width="3" height="12" fill="#fff"/>
</g>
<g clip-path="url(#cmacd)" shape-rendering="crispEdges">
<rect x="7" y="671" width="1" height="31" fill="#c0c0c0"/>
<rect x="15" y="678" width="1" height="24" fill="#c0c0c0"/>
<rect x="23" y="686" width="1" height="16" fill="#c0c0c0"/>
<rect x="31" y="688" width="1" height="14" fill="#c0c0c0"/>
<rect x="39" y="691" width="1" height="11" fill="#c0c0c0"/>
<rect x="47" y="692" width="1" height="10" fill="#c0c0c0"/>
<rect x="55" y="685" width="1" height="17" fill="#c0c0c0"/>
<rect x="63" y="682" width="1" height="20" fill="#c0c0c0"/>
<rect x="71" y="679" width="1" height="23" fill="#c0c0c0"/>
<rect x="79" y="676" width="1" height="26" fill="#c0c0c0"/>
<rect x="87" y="674" width="1" height="28" fill="#c0c0c0"/>
<rect x="95" y="673" width="1" height="29" fill="#c0c0c0"/>
<rect x="103" y="671" width="1" height="31" fill="#c0c0c0"/>
<rect x="111" y="666" width="1" height="36" fill="#c0c0c0"/>
<rect x="119" y="658" width="1" height="44" fill="#c0c0c0"/>
<rect x="127" y="654" width="1" height="48" fill="#c0c0c0"/>
<rect x="135" y="650" width="1" height="52" fill="#c0c0c0"/>
<rect x="143" y="650" width="1" height="52" fill="#c0c0c0"/>
<rect x="151" y="650" width="1" height="52" fill="#c0c0c0"/>
<rect x="159" y="646" width="1" height="56" fill="#c0c0c0"/>
<rect x="167" y="639" width="1" height="63" fill="#c0c0c0"/>
<rect x="175" y="635" width="1" height="67" fill="#c0c0c0"/>
<rect x="183" y="625" width="1" height="77" fill="#c0c0c0"/>
<rect x="191" y="616" width="1" height="86" fill="#c0c0c0"/>
<rect x="199" y="608" width="1" height="94" fill="#c0c0c0"/>
<rect x="207" y="604" width="1" height="98" fill="#c0c0c0"/>
<rect x="215" y="608" width="1" height="94" fill="#c0c0c0"/>
<rect x="223" y="625" width="1" height="77" fill="#c0c0c0"/>
<rect x="231" y="637" width="1" height="65" fill="#c0c0c0"/>
<rect x="239" y="650" width="1" height="52" fill="#c0c0c0"/>
<rect x="247" y="653" width="1" height="49" fill="#c0c0c0"/>
<rect x="255" y="655" width="1" height="47" fill="#c0c0c0"/>
<rect x="263" y="660" width="1" height="42" fill="#c0c0c0"/>
<rect x="271" y="662" width="1" height="40" fill="#c0c0c0"/>
<rect x="279" y="670" width="1" height="32" fill="#c0c0c0"/>
<rect x="287" y="676" width="1" height="26" fill="#c0c0c0"/>
<rect x="295" y="677" width="1" height="25" fill="#c0c0c0"/>
<rect x="303" y="678" width="1" height="24" fill="#c0c0c0"/>
<rect x="311" y="685" width="1" height="17" fill="#c0c0c0"/>
<rect x="319" y="689" width="1" height="13" fill="#c0c0c0"/>
<rect x="327" y="697" width="1" height="5" fill="#c0c0c0"/>
<rect x="335" y="701" width="1" height="4" fill="#c0c0c0"/>
<rect x="343" y="701" width="1" height="3" fill="#c0c0c0"/>
<rect x="351" y="701" width="1" height="2" fill="#c0c0c0"/>
<rect x="359" y="701" width="1" height="2" fill="#c0c0c0"/>
<rect x="367" y="701" width="1" height="2" fill="#c0c0c0"/>
<rect x="383" y="700" width="1" height="2" fill="#c0c0c0"/>
<rect x="391" y="694" width="1" height="8" fill="#c0c0c0"/>
<rect x="399" y="694" width="1" height="8" fill="#c0c0c0"/>
<rect x="407" y="692" width="1" height="10" fill="#c0c0c0"/>
<rect x="415" y="694" width="1" height="8" fill="#c0c0c0"/>
<rect x="423" y="692" width="1" height="10" fill="#c0c0c0"/>
<rect x="431" y="691" width="1" height="11" fill="#c0c0c0"/>
<rect x="439" y="690" width="1" height="12" fill="#c0c0c0"/>
<rect x="447" y="682" width="1" height="20" fill="#c0c0c0"/>
<rect x="455" y="677" width="1" height="25" fill="#c0c0c0"/>
<rect x="463" y="674" width="1" height="28" fill="#c0c0c0"/>
<rect x="471" y="674" width="1" height="28" fill="#c0c0c0"/>
<rect x="479" y="673" width="1" height="29" fill="#c0c0c0"/>
<rect x="487" y="672" width="1" height="30" fill="#c0c0c0"/>
<rect x="495" y="670" width="1" height="32" fill="#c0c0c0"/>
<rect x="503" y="669" width="1" height="33" fill="#c0c0c0"/>
<rect x="511" y="671" width="1" height="31" fill="#c0c0c0"/>
<rect x="519" y="675" width="1" height="27" fill="#c0c0c0"/>
<rect x="527" y="678" width="1" height="24" fill="#c0c0c0"/>
<rect x="535" y="679" width="1" height="23" fill="#c0c0c0"/>
<rect x="543" y="682" width="1" height="20" fill="#c0c0c0"/>
<rect x="551" y="684" width="1" height="18" fill="#c0c0c0"/>
<rect x="559" y="685" width="1" height="17" fill="#c0c0c0"/>
<rect x="567" y="687" width="1" height="15" fill="#c0c0c0"/>
<rect x="575" y="689" width="1" height="13" fill="#c0c0c0"/>
<rect x="583" y="689" width="1" height="13" fill="#c0c0c0"/>
<rect x="591" y="687" width="1" height="15" fill="#c0c0c0"/>
<rect x="599" y="684" width="1" height="18" fill="#c0c0c0"/>
<rect x="607" y="678" width="1" height="24" fill="#c0c0c0"/>
<rect x="615" y="674" width="1" height="28" fill="#c0c0c0"/>
<rect x="623" y="671" width="1" height="31" fill="#c0c0c0"/>
<rect x="631" y="666" width="1" height="36" fill="#c0c0c0"/>
<rect x="639" y="662" width="1" height="40" fill="#c0c0c0"/>
<rect x="647" y="658" width="1" height="44" fill="#c0c0c0"/>
<rect x="655" y="655" width="1" height="47" fill="#c0c0c0"/>
<rect x="663" y="655" width="1" height="47" fill="#c0c0c0"/>
<rect x="671" y="654" width="1" height="48" fill="#c0c0c0"/>
<rect x="679" y="654" width="1" height="48" fill="#c0c0c0"/>
<rect x="687" y="656" width="1" height="46" fill="#c0c0c0"/>
<rect x="695" y="659" width="1" height="43" fill="#c0c0c0"/>
<rect x="703" y="660" width="1" height="42" fill="#c0c0c0"/>
<rect x="711" y="661" width="1" height="41" fill="#c0c0c0"/>
<rect x="719" y="662" width="1" height="40" fill="#c0c0c0"/>
<rect x="727" y="659" width="1" height="43" fill="#c0c0c0"/>
<rect x="735" y="658" width="1" height="44" fill="#c0c0c0"/>
<rect x="743" y="658" width="1" height="44" fill="#c0c0c0"/>
<rect x="751" y="655" width="1" height="47" fill="#c0c0c0"/>
<rect x="759" y="653" width="1" height="49" fill="#c0c0c0"/>
<rect x="767" y="651" width="1" height="51" fill="#c0c0c0"/>
<rect x="775" y="653" width="1" height="49" fill="#c0c0c0"/>
<rect x="783" y="652" width="1" height="50" fill="#c0c0c0"/>
<rect x="791" y="649" width="1" height="53" fill="#c0c0c0"/>
<rect x="799" y="655" width="1" height="47" fill="#c0c0c0"/>
<rect x="807" y="661" width="1" height="41" fill="#c0c0c0"/>
<rect x="815" y="667" width="1" height="35" fill="#c0c0c0"/>
<rect x="823" y="669" width="1" height="33" fill="#c0c0c0"/>
<rect x="831" y="680" width="1" height="22" fill="#c0c0c0"/>
<rect x="839" y="682" width="1" height="20" fill="#c0c0c0"/>
<rect x="847" y="689" width="1" height="13" fill="#c0c0c0"/>
<rect x="855" y="694" width="1" height="8" fill="#c0c0c0"/>
<rect x="863" y="696" width="1" height="6" fill="#c0c0c0"/>
<rect x="871" y="696" width="1" height="6" fill="#c0c0c0"/>
<rect x="879" y="697" width="1" height="5" fill="#c0c0c0"/>
<rect x="887" y="698" width="1" height="4" fill="#c0c0c0"/>
<rect x="895" y="699" width="1" height="3" fill="#c0c0c0"/>
<rect x="911" y="701" width="1" height="4" fill="#c0c0c0"/>
<rect x="919" y="701" width="1" height="11" fill="#c0c0c0"/>
<rect x="927" y="701" width="1" height="14" fill="#c0c0c0"/>
<rect x="935" y="701" width="1" height="23" fill="#c0c0c0"/>
<rect x="943" y="701" width="1" height="27" fill="#c0c0c0"/>
<rect x="951" y="701" width="1" height="28" fill="#c0c0c0"/>
<rect x="959" y="701" width="1" height="28" fill="#c0c0c0"/>
<rect x="967" y="701" width="1" height="24" fill="#c0c0c0"/>
<rect x="975" y="701" width="1" height="20" fill="#c0c0c0"/>
<rect x="983" y="701" width="1" height="16" fill="#c0c0c0"/>
<rect x="991" y="701" width="1" height="13" fill="#c0c0c0"/>
<rect x="999" y="701" width="1" height="11" fill="#c0c0c0"/>
<rect x="1007" y="701" width="1" height="8" fill="#c0c0c0"/>
<rect x="1015" y="701" width="1" height="3" fill="#c0c0c0"/>
<rect x="1023" y="701" width="1" height="2" fill="#c0c0c0"/>
<rect x="1031" y="700" width="1" height="2" fill="#c0c0c0"/>
<rect x="1039" y="691" width="1" height="11" fill="#c0c0c0"/>
<rect x="1047" y="686" width="1" height="16" fill="#c0c0c0"/>
<rect x="1055" y="682" width="1" height="20" fill="#c0c0c0"/>
<rect x="1063" y="676" width="1" height="26" fill="#c0c0c0"/>
<rect x="1071" y="674" width="1" height="28" fill="#c0c0c0"/>
<rect x="1079" y="674" width="1" height="28" fill="#c0c0c0"/>
<rect x="1087" y="674" width="1" height="28" fill="#c0c0c0"/>
<rect x="1095" y="675" width="1" height="27" fill="#c0c0c0"/>
<rect x="1103" y="675" width="1" height="27" fill="#c0c0c0"/>
<rect x="1111" y="678" width="1" height="24" fill="#c0c0c0"/>
<rect x="1119" y="680" width="1" height="22" fill="#c0c0c0"/>
<rect x="1127" y="685" width="1" height="17" fill="#c0c0c0"/>
<rect x="1135" y="686" width="1" height="16" fill="#c0c0c0"/>
<rect x="1143" y="687" width="1" height="15" fill="#c0c0c0"/>
<rect x="1151" y="690" width="1" height="12" fill="#c0c0c0"/>
<rect x="1159" y="697" width="1" height="5" fill="#c0c0c0"/>
<rect x="1167" y="701" width="1" height="4" fill="#c0c0c0"/>
<rect x="1175" y="701" width="1" height="17" fill="#c0c0c0"/>
<rect x="1183" y="701" width="1" height="28" fill="#c0c0c0"/>
<rect x="1191" y="701" width="1" height="36" fill="#c0c0c0"/>
<rect x="1199" y="701" width="1" height="43" fill="#c0c0c0"/>
<rect x="1207" y="701" width="1" height="43" fill="#c0c0c0"/>
<rect x="1215" y="701" width="1" height="36" fill="#c0c0c0"/>
<rect x="1223" y="701" width="1" height="30" fill="#c0c0c0"/>
<rect x="1231" y="701" width="1" height="19" fill="#c0c0c0"/>
<rect x="1239" y="701" width="1" height="11" fill="#c0c0c0"/>
<rect x="1247" y="701" width="1" height="2" fill="#c0c0c0"/>
<rect x="1255" y="690" width="1" height="12" fill="#c0c0c0"/>
<rect x="1263" y="679" width="1" height="23" fill="#c0c0c0"/>
<rect x="1271" y="670" width="1" height="32" fill="#c0c0c0"/>
<rect x="1279" y="666" width="1" height="36" fill="#c0c0c0"/>
<rect x="1287" y="660" width="1" height="42" fill="#c0c0c0"/>
<rect x="1295" y="654" width="1" height="48" fill="#c0c0c0"/>
<rect x="1303" y="647" width="1" height="55" fill="#c0c0c0"/>
<rect x="1311" y="644" width="1" height="58" fill="#c0c0c0"/>
<rect x="1319" y="645" width="1" height="57" fill="#c0c0c0"/>
<rect x="1327" y="648" width="1" height="54" fill="#c0c0c0"/>
<rect x="1335" y="652" width="1" height="50" fill="#c0c0c0"/>
<rect x="1343" y="655" width="1" height="47" fill="#c0c0c0"/>
<rect x="1351" y="653" width="1" height="49" fill="#c0c0c0"/>
<rect x="1359" y="649" width="1" height="53" fill="#c0c0c0"/>
<rect x="1367" y="648" width="1" height="54" fill="#c0c0c0"/>
<rect x="1375" y="649" width="1" height="53" fill="#c0c0c0"/>
<rect x="1383" y="650" width="1" height="52" fill="#c0c0c0"/>
<rect x="1391" y="650" width="1" height="52" fill="#c0c0c0"/>
<rect x="1399" y="653" width="1" height="49" fill="#c0c0c0"/>
<rect x="1407" y="655" width="1" height="47" fill="#c0c0c0"/>
<rect x="1415" y="657" width="1" height="45" fill="#c0c0c0"/>
<rect x="1423" y="657" width="1" height="45" fill="#c0c0c0"/>
<rect x="1431" y="657" width="1" height="45" fill="#c0c0c0"/>
<rect x="-1" y="668" width="1" height="34" fill="#c0c0c0"/>
<polyline points="-0.5,670.8 7.5,671.9 15.5,673.2 23.5,675.6 31.5,676.9 39.5,677.9 47.5,679.6 55.5,681.4 63.5,682.2 71.5,683.6 79.5,684.2 87.5,683.8 95.5,682.4 103.5,680.5 111.5,677.7 119.5,673.9 127.5,670.5 135.5,666.9 143.5,663.7 151.5,660.8 159.5,657.6 167.5,653.9 175.5,649.9 183.5,645.3 191.5,640.6 199.5,635.5 207.5,630.4 215.5,625.7 223.5,622.9 231.5,621.9 239.5,623.1 247.5,625.1 255.5,628.4 263.5,633.3 271.5,639.3 279.5,646.7 287.5,654.3 295.5,660.1 303.5,664.6 311.5,668.5 319.5,672.5 327.5,677.1 335.5,682.0 343.5,686.5 351.5,690.0 359.5,692.9 367.5,695.6 375.5,698.2 383.5,699.8 391.5,700.4 399.5,700.0 407.5,698.7 415.5,697.7 423.5,696.6 431.5,695.5 439.5,694.2 447.5,692.1 455.5,689.6 463.5,687.3 471.5,685.1 479.5,683.0 487.5,680.6 495.5,678.1 503.5,675.7 511.5,673.5 519.5,672.8 527.5,672.9 535.5,673.5 543.5,674.4 551.5,675.6 559.5,677.0 567.5,678.9 575.5,681.1 583.5,683.1 591.5,684.4 599.5,685.1 607.5,685.0 615.5,684.1 623.5,682.6 631.5,680.5 639.5,677.8 647.5,674.3 655.5,670.6 663.5,667.0 671.5,663.7 679.5,661.0 687.5,659.0 695.5,657.7 703.5,657.0 711.5,656.9 719.5,657.4 727.5,657.8 735.5,658.2 743.5,658.6 751.5,658.7 759.5,658.4 767.5,657.5 775.5,656.7 783.5,655.7 791.5,654.3 799.5,653.8 807.5,654.2 815.5,655.2 823.5,656.7 831.5,659.7 839.5,663.2 847.5,667.1 855.5,671.8 863.5,677.0 871.5,681.6 879.5,685.6 887.5,689.0 895.5,692.3 903.5,694.7 911.5,697.1 919.5,699.5 927.5,701.7 935.5,704.7 943.5,708.1 951.5,711.5 959.5,714.8 967.5,717.6 975.5,719.7 983.5,721.0 991.5,721.2 999.5,720.9 1007.5,719.3 1015.5,716.6 1023.5,713.7 1031.5,710.6 1039.5,706.9 1047.5,703.2 1055.5,699.4 1063.5,695.4 1071.5,691.3 1079.5,687.6 1087.5,684.4 1095.5,681.4 1103.5,678.7 1111.5,677.3 1119.5,676.6 1127.5,676.9 1135.5,678.1 1143.5,679.5 1151.5,681.2 1159.5,683.8 1167.5,686.9 1175.5,691.5 1183.5,697.1 1191.5,703.2 1199.5,709.6 1207.5,715.9 1215.5,721.4 1223.5,725.8 1231.5,728.2 1239.5,729.0 1247.5,727.3 1255.5,723.2 1263.5,716.9 1271.5,708.8 1279.5,700.3 1287.5,691.8 1295.5,683.4 1303.5,675.5 1311.5,668.0 1319.5,661.7 1327.5,657.1 1335.5,654.1 1343.5,652.4 1351.5,650.9 1359.5,649.7 1367.5,649.0 1375.5,649.3 1383.5,649.9 1391.5,650.4 1399.5,651.0 1407.5,651.3 1415.5,651.6 1423.5,652.0 1431.5,652.9" fill="none" stroke="#ff0000" stroke-width="1" stroke-dasharray="3 3"/>
</g>
<g clip-path="url(#crsi)" shape-rendering="crispEdges">
<line x1="0" y1="789.5" x2="1681" y2="789.5" stroke="#c0c0c0" stroke-width="1" stroke-dasharray="3 3" stroke-dashoffset="2"/>
<line x1="0" y1="840.5" x2="1681" y2="840.5" stroke="#c0c0c0" stroke-width="1" stroke-dasharray="3 3" stroke-dashoffset="2"/>
<line x1="0" y1="901.5" x2="1681" y2="901.5" stroke="#c0c0c0" stroke-width="1" stroke-dasharray="3 3" stroke-dashoffset="2"/>
<polyline points="-0.5,828.0 7.5,832.0 15.5,843.9 23.5,847.6 31.5,840.2 39.5,842.4 47.5,838.3 55.5,825.4 63.5,832.0 71.5,828.3 79.5,828.3 87.5,829.4 95.5,827.6 103.5,825.4 111.5,820.9 119.5,810.6 127.5,818.4 135.5,816.5 143.5,822.4 151.5,821.4 159.5,814.3 167.5,806.6 175.5,809.4 183.5,799.1 191.5,797.2 199.5,795.3 207.5,800.2 215.5,817.6 223.5,843.1 231.5,840.2 239.5,845.1 247.5,832.0 255.5,830.6 263.5,836.2 271.5,833.2 279.5,842.4 287.5,843.4 295.5,833.2 303.5,835.7 311.5,846.1 319.5,842.4 327.5,851.3 335.5,852.5 343.5,840.6 351.5,839.4 359.5,840.5 367.5,837.5 375.5,839.1 383.5,835.0 391.5,828.3 399.5,837.4 407.5,834.6 415.5,840.5 423.5,834.8 431.5,833.2 439.5,833.2 447.5,820.2 455.5,820.2 463.5,824.3 471.5,827.3 479.5,825.4 487.5,825.4 495.5,821.4 503.5,820.2 511.5,830.6 519.5,837.2 527.5,837.2 535.5,831.3 543.5,838.7 551.5,835.4 559.5,835.4 567.5,838.4 575.5,838.4 583.5,829.8 591.5,825.4 599.5,814.6 607.5,811.0 615.5,809.5 623.5,810.6 631.5,802.4 639.5,803.4 647.5,799.1 655.5,799.1 663.5,804.3 671.5,802.4 679.5,806.1 687.5,811.0 695.5,821.4 703.5,815.0 711.5,811.3 719.5,810.1 727.5,800.5 735.5,806.6 743.5,803.9 751.5,798.7 759.5,797.7 767.5,794.3 775.5,813.1 783.5,806.1 791.5,798.7 799.5,835.3 807.5,837.2 815.5,837.2 823.5,830.6 831.5,853.1 839.5,838.5 847.5,847.3 855.5,847.3 863.5,843.1 871.5,838.3 879.5,841.7 887.5,839.4 895.5,843.9 903.5,848.3 911.5,849.4 919.5,860.5 927.5,855.7 935.5,868.6 943.5,858.7 951.5,854.0 959.5,852.3 967.5,840.5 975.5,843.6 983.5,835.3 991.5,837.2 999.5,841.2 1007.5,835.0 1015.5,830.3 1023.5,840.6 1031.5,825.8 1039.5,822.4 1047.5,820.2 1055.5,822.4 1063.5,816.5 1071.5,821.4 1079.5,827.3 1087.5,827.3 1095.5,828.3 1103.5,825.4 1111.5,836.2 1119.5,834.6 1127.5,844.2 1135.5,834.6 1143.5,839.1 1151.5,841.4 1159.5,855.7 1167.5,864.3 1175.5,875.3 1183.5,878.3 1191.5,876.5 1199.5,879.4 1207.5,858.7 1215.5,840.6 1223.5,837.2 1231.5,826.6 1239.5,826.6 1247.5,821.7 1255.5,812.0 1263.5,809.5 1271.5,809.5 1279.5,818.4 1287.5,811.3 1295.5,808.6 1303.5,805.7 1311.5,808.6 1319.5,820.2 1327.5,826.1 1335.5,827.6 1343.5,825.8 1351.5,816.5 1359.5,810.6 1367.5,816.9 1375.5,819.4 1383.5,817.5 1391.5,817.5 1399.5,823.4 1407.5,822.4 1415.5,820.5 1423.5,818.0 1431.5,813.2" fill="none" stroke="#1e90ff" stroke-width="1"/>
</g>
<g shape-rendering="crispEdges">
<rect x="0" y="26" width="1682" height="1" fill="#000"/>
<rect x="0" y="593" width="1682" height="1" fill="#000"/>
<rect x="0" y="595" width="1682" height="1" fill="#000"/>
<rect x="0" y="751" width="1682" height="1" fill="#000"/>
<rect x="0" y="753" width="1682" height="1" fill="#000"/>
<rect x="0" y="927" width="1682" height="1" fill="#000"/>
<rect x="1681" y="26" width="1" height="568" fill="#000"/>
<rect x="1681" y="595" width="1" height="157" fill="#000"/>
<rect x="1681" y="753" width="1" height="175" fill="#000"/>
<rect x="1727" y="22" width="1" height="923" fill="#f0f0f0"/>
</g>
<g shape-rendering="crispEdges">
<rect x="1682" y="128" width="3" height="1" fill="#000"/>
<rect x="1682" y="161" width="3" height="1" fill="#000"/>
<rect x="1682" y="194" width="3" height="1" fill="#000"/>
<rect x="1682" y="227" width="3" height="1" fill="#000"/>
<rect x="1682" y="260" width="3" height="1" fill="#000"/>
<rect x="1682" y="293" width="3" height="1" fill="#000"/>
<rect x="1682" y="326" width="3" height="1" fill="#000"/>
<rect x="1682" y="359" width="3" height="1" fill="#000"/>
<rect x="1682" y="392" width="3" height="1" fill="#000"/>
<rect x="1682" y="425" width="3" height="1" fill="#000"/>
<rect x="1682" y="458" width="3" height="1" fill="#000"/>
<rect x="1682" y="491" width="3" height="1" fill="#000"/>
<rect x="1682" y="524" width="3" height="1" fill="#000"/>
<rect x="1682" y="557" width="3" height="1" fill="#000"/>
<rect x="1682" y="590" width="3" height="1" fill="#000"/>
<rect x="1682" y="95" width="3" height="1" fill="#000"/>
</g>
<text x="0" y="0" transform="translate(1687,132) scale(1,1.12)" font-size="9.4" fill="#000" font-family="'Liberation Sans', Arial, sans-serif" textLength="33" lengthAdjust="spacingAndGlyphs">29151.0</text>
<text x="0" y="0" transform="translate(1687,165) scale(1,1.12)" font-size="9.4" fill="#000" font-family="'Liberation Sans', Arial, sans-serif" textLength="33" lengthAdjust="spacingAndGlyphs">28675.0</text>
<text x="0" y="0" transform="translate(1687,198) scale(1,1.12)" font-size="9.4" fill="#000" font-family="'Liberation Sans', Arial, sans-serif" textLength="33" lengthAdjust="spacingAndGlyphs">28213.0</text>
<text x="0" y="0" transform="translate(1687,231) scale(1,1.12)" font-size="9.4" fill="#000" font-family="'Liberation Sans', Arial, sans-serif" textLength="33" lengthAdjust="spacingAndGlyphs">27737.0</text>
<text x="0" y="0" transform="translate(1687,264) scale(1,1.12)" font-size="9.4" fill="#000" font-family="'Liberation Sans', Arial, sans-serif" textLength="33" lengthAdjust="spacingAndGlyphs">27261.0</text>
<text x="0" y="0" transform="translate(1687,297) scale(1,1.12)" font-size="9.4" fill="#000" font-family="'Liberation Sans', Arial, sans-serif" textLength="33" lengthAdjust="spacingAndGlyphs">26799.0</text>
<text x="0" y="0" transform="translate(1687,330) scale(1,1.12)" font-size="9.4" fill="#000" font-family="'Liberation Sans', Arial, sans-serif" textLength="33" lengthAdjust="spacingAndGlyphs">26323.0</text>
<text x="0" y="0" transform="translate(1687,363) scale(1,1.12)" font-size="9.4" fill="#000" font-family="'Liberation Sans', Arial, sans-serif" textLength="33" lengthAdjust="spacingAndGlyphs">25847.0</text>
<text x="0" y="0" transform="translate(1687,396) scale(1,1.12)" font-size="9.4" fill="#000" font-family="'Liberation Sans', Arial, sans-serif" textLength="33" lengthAdjust="spacingAndGlyphs">25385.0</text>
<text x="0" y="0" transform="translate(1687,429) scale(1,1.12)" font-size="9.4" fill="#000" font-family="'Liberation Sans', Arial, sans-serif" textLength="33" lengthAdjust="spacingAndGlyphs">24909.0</text>
<text x="0" y="0" transform="translate(1687,462) scale(1,1.12)" font-size="9.4" fill="#000" font-family="'Liberation Sans', Arial, sans-serif" textLength="33" lengthAdjust="spacingAndGlyphs">24433.0</text>
<text x="0" y="0" transform="translate(1687,495) scale(1,1.12)" font-size="9.4" fill="#000" font-family="'Liberation Sans', Arial, sans-serif" textLength="33" lengthAdjust="spacingAndGlyphs">23971.0</text>
<text x="0" y="0" transform="translate(1687,528) scale(1,1.12)" font-size="9.4" fill="#000" font-family="'Liberation Sans', Arial, sans-serif" textLength="33" lengthAdjust="spacingAndGlyphs">23495.0</text>
<text x="0" y="0" transform="translate(1687,561) scale(1,1.12)" font-size="9.4" fill="#000" font-family="'Liberation Sans', Arial, sans-serif" textLength="33" lengthAdjust="spacingAndGlyphs">23019.0</text>
<text x="0" y="0" transform="translate(1687,594) scale(1,1.12)" font-size="9.4" fill="#000" font-family="'Liberation Sans', Arial, sans-serif" textLength="33" lengthAdjust="spacingAndGlyphs">22557.0</text>
<text x="0" y="0" transform="translate(1687,99) scale(1,1.12)" font-size="9.4" fill="#000" font-family="'Liberation Sans', Arial, sans-serif" textLength="33" lengthAdjust="spacingAndGlyphs">29627.0</text>
<rect x="1683" y="52" width="41" height="11" fill="#000000" shape-rendering="crispEdges"/>
<text x="0" y="0" transform="translate(1687,60.8) scale(1,1.12)" font-size="9.4" fill="#fff" font-family="'Liberation Sans', Arial, sans-serif" textLength="33" lengthAdjust="spacingAndGlyphs">30159.0</text>
<rect x="1683" y="25" width="41" height="11" fill="#ff0000" shape-rendering="crispEdges"/>
<text x="0" y="0" transform="translate(1687,33.8) scale(1,1.12)" font-size="9.4" fill="#fff" font-family="'Liberation Sans', Arial, sans-serif" textLength="33" lengthAdjust="spacingAndGlyphs">30531.9</text>
<rect x="1683" y="38" width="41" height="11" fill="#ff0000" shape-rendering="crispEdges"/>
<text x="0" y="0" transform="translate(1687,46.8) scale(1,1.12)" font-size="9.4" fill="#fff" font-family="'Liberation Sans', Arial, sans-serif" textLength="33" lengthAdjust="spacingAndGlyphs">30346.5</text>
<rect x="1683" y="61" width="41" height="11" fill="#32cd32" shape-rendering="crispEdges"/>
<text x="0" y="0" transform="translate(1687,69.8) scale(1,1.12)" font-size="9.4" fill="#fff" font-family="'Liberation Sans', Arial, sans-serif" textLength="33" lengthAdjust="spacingAndGlyphs">30018.4</text>
<rect x="1683" y="76" width="41" height="11" fill="#0000ff" shape-rendering="crispEdges"/>
<text x="0" y="0" transform="translate(1687,84.8) scale(1,1.12)" font-size="9.4" fill="#fff" font-family="'Liberation Sans', Arial, sans-serif" textLength="33" lengthAdjust="spacingAndGlyphs">29804.4</text>
<rect x="1683" y="98" width="41" height="11" fill="#0000ff" shape-rendering="crispEdges"/>
<text x="0" y="0" transform="translate(1687,106.8) scale(1,1.12)" font-size="9.4" fill="#fff" font-family="'Liberation Sans', Arial, sans-serif" textLength="33" lengthAdjust="spacingAndGlyphs">29502.6</text>
<rect x="1676.5" y="29.5" width="4" height="4" fill="#fff" stroke="#ff0000" stroke-width="1" shape-rendering="crispEdges"/>
<rect x="1676.5" y="42.5" width="4" height="4" fill="#fff" stroke="#ff0000" stroke-width="1" shape-rendering="crispEdges"/>
<rect x="1676.5" y="65.5" width="4" height="4" fill="#fff" stroke="#32cd32" stroke-width="1" shape-rendering="crispEdges"/>
<rect x="1676.5" y="80.5" width="4" height="4" fill="#fff" stroke="#0000ff" stroke-width="1" shape-rendering="crispEdges"/>
<g shape-rendering="crispEdges">
<rect x="1682" y="597" width="2" height="1" fill="#000"/>
<rect x="1682" y="701" width="2" height="1" fill="#000"/>
<rect x="1682" y="750" width="2" height="1" fill="#000"/>
<rect x="1682" y="755" width="2" height="1" fill="#000"/>
</g>
<text x="0" y="0" transform="translate(1685,606) scale(1,1.12)" font-size="9.4" fill="#000" font-family="'Liberation Sans', Arial, sans-serif" textLength="27.7" lengthAdjust="spacingAndGlyphs">929.45</text>
<text x="0" y="0" transform="translate(1685,705) scale(1,1.12)" font-size="9.4" fill="#000" font-family="'Liberation Sans', Arial, sans-serif">0.00</text>
<text x="0" y="0" transform="translate(1685,748) scale(1,1.12)" font-size="9.4" fill="#000" font-family="'Liberation Sans', Arial, sans-serif">-436.65</text>
<text x="0" y="0" transform="translate(1685,764) scale(1,1.12)" font-size="9.4" fill="#000" font-family="'Liberation Sans', Arial, sans-serif">100</text>
<text x="0" y="0" transform="translate(1685,793) scale(1,1.12)" font-size="9.4" fill="#000" font-family="'Liberation Sans', Arial, sans-serif">80</text>
<text x="0" y="0" transform="translate(1685,844) scale(1,1.12)" font-size="9.4" fill="#000" font-family="'Liberation Sans', Arial, sans-serif">50</text>
<text x="0" y="0" transform="translate(1685,905) scale(1,1.12)" font-size="9.4" fill="#000" font-family="'Liberation Sans', Arial, sans-serif">15</text>
<text x="0" y="0" transform="translate(1685,924) scale(1,1.12)" font-size="9.4" fill="#000" font-family="'Liberation Sans', Arial, sans-serif">0</text>
<g shape-rendering="crispEdges">
<rect x="55" y="928" width="1" height="3" fill="#000"/>
<rect x="119" y="928" width="1" height="3" fill="#000"/>
<rect x="183" y="928" width="1" height="3" fill="#000"/>
<rect x="247" y="928" width="1" height="3" fill="#000"/>
<rect x="311" y="928" width="1" height="3" fill="#000"/>
<rect x="375" y="928" width="1" height="3" fill="#000"/>
<rect x="439" y="928" width="1" height="3" fill="#000"/>
<rect x="503" y="928" width="1" height="3" fill="#000"/>
<rect x="567" y="928" width="1" height="3" fill="#000"/>
<rect x="631" y="928" width="1" height="3" fill="#000"/>
<rect x="695" y="928" width="1" height="3" fill="#000"/>
<rect x="759" y="928" width="1" height="3" fill="#000"/>
<rect x="823" y="928" width="1" height="3" fill="#000"/>
<rect x="887" y="928" width="1" height="3" fill="#000"/>
<rect x="951" y="928" width="1" height="3" fill="#000"/>
<rect x="1015" y="928" width="1" height="3" fill="#000"/>
<rect x="1079" y="928" width="1" height="3" fill="#000"/>
<rect x="1143" y="928" width="1" height="3" fill="#000"/>
<rect x="1207" y="928" width="1" height="3" fill="#000"/>
<rect x="1271" y="928" width="1" height="3" fill="#000"/>
<rect x="1335" y="928" width="1" height="3" fill="#000"/>
<rect x="1399" y="928" width="1" height="3" fill="#000"/>
</g>
<text x="0" y="0" transform="translate(-9,940) scale(1,1.12)" font-size="9.4" fill="#000" font-family="'Liberation Sans', Arial, sans-serif">8 May 2020</text>
<text x="0" y="0" transform="translate(55,940) scale(1,1.12)" font-size="9.4" fill="#000" font-family="'Liberation Sans', Arial, sans-serif">18 May 2020</text>
<text x="0" y="0" transform="translate(119,940) scale(1,1.12)" font-size="9.4" fill="#000" font-family="'Liberation Sans', Arial, sans-serif">27 May 2020</text>
<text x="0" y="0" transform="translate(183,940) scale(1,1.12)" font-size="9.4" fill="#000" font-family="'Liberation Sans', Arial, sans-serif">5 Jun 2020</text>
<text x="0" y="0" transform="translate(247,940) scale(1,1.12)" font-size="9.4" fill="#000" font-family="'Liberation Sans', Arial, sans-serif">15 Jun 2020</text>
<text x="0" y="0" transform="translate(311,940) scale(1,1.12)" font-size="9.4" fill="#000" font-family="'Liberation Sans', Arial, sans-serif">24 Jun 2020</text>
<text x="0" y="0" transform="translate(375,940) scale(1,1.12)" font-size="9.4" fill="#000" font-family="'Liberation Sans', Arial, sans-serif">3 Jul 2020</text>
<text x="0" y="0" transform="translate(439,940) scale(1,1.12)" font-size="9.4" fill="#000" font-family="'Liberation Sans', Arial, sans-serif">13 Jul 2020</text>
<text x="0" y="0" transform="translate(503,940) scale(1,1.12)" font-size="9.4" fill="#000" font-family="'Liberation Sans', Arial, sans-serif">22 Jul 2020</text>
<text x="0" y="0" transform="translate(567,940) scale(1,1.12)" font-size="9.4" fill="#000" font-family="'Liberation Sans', Arial, sans-serif">31 Jul 2020</text>
<text x="0" y="0" transform="translate(631,940) scale(1,1.12)" font-size="9.4" fill="#000" font-family="'Liberation Sans', Arial, sans-serif">10 Aug 2020</text>
<text x="0" y="0" transform="translate(695,940) scale(1,1.12)" font-size="9.4" fill="#000" font-family="'Liberation Sans', Arial, sans-serif">19 Aug 2020</text>
<text x="0" y="0" transform="translate(759,940) scale(1,1.12)" font-size="9.4" fill="#000" font-family="'Liberation Sans', Arial, sans-serif">28 Aug 2020</text>
<text x="0" y="0" transform="translate(823,940) scale(1,1.12)" font-size="9.4" fill="#000" font-family="'Liberation Sans', Arial, sans-serif">7 Sep 2020</text>
<text x="0" y="0" transform="translate(887,940) scale(1,1.12)" font-size="9.4" fill="#000" font-family="'Liberation Sans', Arial, sans-serif">16 Sep 2020</text>
<text x="0" y="0" transform="translate(951,940) scale(1,1.12)" font-size="9.4" fill="#000" font-family="'Liberation Sans', Arial, sans-serif">25 Sep 2020</text>
<text x="0" y="0" transform="translate(1015,940) scale(1,1.12)" font-size="9.4" fill="#000" font-family="'Liberation Sans', Arial, sans-serif">5 Oct 2020</text>
<text x="0" y="0" transform="translate(1079,940) scale(1,1.12)" font-size="9.4" fill="#000" font-family="'Liberation Sans', Arial, sans-serif">14 Oct 2020</text>
<text x="0" y="0" transform="translate(1143,940) scale(1,1.12)" font-size="9.4" fill="#000" font-family="'Liberation Sans', Arial, sans-serif">23 Oct 2020</text>
<text x="0" y="0" transform="translate(1207,940) scale(1,1.12)" font-size="9.4" fill="#000" font-family="'Liberation Sans', Arial, sans-serif">2 Nov 2020</text>
<text x="0" y="0" transform="translate(1271,940) scale(1,1.12)" font-size="9.4" fill="#000" font-family="'Liberation Sans', Arial, sans-serif">11 Nov 2020</text>
<text x="0" y="0" transform="translate(1335,940) scale(1,1.12)" font-size="9.4" fill="#000" font-family="'Liberation Sans', Arial, sans-serif">20 Nov 2020</text>
<text x="0" y="0" transform="translate(1399,940) scale(1,1.12)" font-size="9.4" fill="#000" font-family="'Liberation Sans', Arial, sans-serif">30 Nov 2020</text>
<text x="0" y="0" transform="translate(-6.4,608) scale(1,1.12)" font-size="9.4" fill="#000" font-family="'Liberation Sans', Arial, sans-serif" textLength="128.7" lengthAdjust="spacingAndGlyphs">MACD(12,26,9) 403.98 437.21</text>
<text x="0" y="0" transform="translate(-5.6,766) scale(1,1.12)" font-size="9.4" fill="#000" font-family="'Liberation Sans', Arial, sans-serif" textLength="68.3" lengthAdjust="spacingAndGlyphs">RSI(14) 66.4183</text>
<text x="0" y="0" transform="translate(6.7,38) scale(1,1.12)" font-size="9.4" fill="#000" font-family="'Liberation Sans', Arial, sans-serif" textLength="47.4" lengthAdjust="spacingAndGlyphs">DJ30-,Daily</text>
<text x="0" y="0" transform="translate(61.4,38) scale(1,1.12)" font-size="9.4" fill="#000" font-family="'Liberation Sans', Arial, sans-serif" textLength="139.7" lengthAdjust="spacingAndGlyphs">29969.0 30213.0 29952.0 30159.0</text>
<rect x="0" y="36" width="1" height="1" fill="#000"/>
<g clip-path="url(#cm)" shape-rendering="crispEdges">
<rect x="1219" y="65" width="256" height="7" fill="#00ff00" shape-rendering="crispEdges"/>
<polygon points="1439,27 1448,27 1443.5,32" fill="#c0c0c0"/>
<line x1="1207.5" y1="316.5" x2="1307.7" y2="82.0" stroke="#ff0000" stroke-width="4" stroke-linecap="butt"/>
<polygon points="1310.5,75.6 1302.4,83.1 1307.7,82.0 1310.7,86.6" fill="#ff0000" stroke="#ff0000" stroke-width="2" stroke-linejoin="round"/>
<line x1="1310.5" y1="75.6" x2="1337.5" y2="119.4" stroke="#ff0000" stroke-width="4" stroke-linecap="butt"/>
<polygon points="1341.2,125.4 1339.7,114.5 1337.5,119.4 1332.1,119.2" fill="#ff0000" stroke="#ff0000" stroke-width="2" stroke-linejoin="round"/>
<line x1="1341.2" y1="125.4" x2="1368.0" y2="66.7" stroke="#ff0000" stroke-width="4" stroke-linecap="butt"/>
<polygon points="1370.9,60.3 1362.7,67.6 1368.0,66.7 1370.8,71.3" fill="#ff0000" stroke="#ff0000" stroke-width="2" stroke-linejoin="round"/>
<line x1="1370.9" y1="60.3" x2="1401.6" y2="91.3" stroke="#ff0000" stroke-width="4" stroke-linecap="butt"/>
<polygon points="1406.5,96.3 1402.6,86.0 1401.6,91.3 1396.3,92.3" fill="#ff0000" stroke="#ff0000" stroke-width="2" stroke-linejoin="round"/>
<line x1="1406.5" y1="96.3" x2="1447.5" y2="54.7" stroke="#ff0000" stroke-width="4" stroke-linecap="butt"/>
<polygon points="1452.4,49.7 1442.2,53.7 1447.5,54.7 1448.5,60.0" fill="#ff0000" stroke="#ff0000" stroke-width="2" stroke-linejoin="round"/>
<line x1="1285.0" y1="149.0" x2="1474.5" y2="72.0" stroke="#ff0000" stroke-width="4" stroke-linecap="butt"/>
<polygon points="1481.0,69.4 1470.0,69.0 1474.5,72.0 1473.4,77.3" fill="#ff0000" stroke="#ff0000" stroke-width="2" stroke-linejoin="round"/>
<g shape-rendering="crispEdges">
<rect x="782" y="129" width="10" height="1" fill="#ff0000"/>
<rect x="1054" y="149" width="10" height="1" fill="#ff0000"/>
<rect x="1182" y="352" width="10" height="1" fill="#ff0000"/>
<rect x="1191" y="340" width="1" height="13" fill="#000"/>
<rect x="1104" y="67" width="10" height="1" fill="#ff0000"/>
</g>
<rect x="720.5" y="120.5" width="61" height="18" fill="#fff" stroke="#ff0000" stroke-width="1" shape-rendering="crispEdges"/>
<text x="722.3" y="136" font-size="16" fill="#ff0000" font-family="'Liberation Sans', Arial, sans-serif" textLength="57.5" lengthAdjust="spacingAndGlyphs">29139.4</text>
<rect x="992.5" y="140.5" width="61" height="18" fill="#fff" stroke="#ff0000" stroke-width="1" shape-rendering="crispEdges"/>
<text x="994.4" y="156" font-size="16" fill="#ff0000" font-family="'Liberation Sans', Arial, sans-serif" textLength="57.5" lengthAdjust="spacingAndGlyphs">28848.7</text>
<rect x="1120.5" y="343.5" width="61" height="18" fill="#fff" stroke="#ff0000" stroke-width="1" shape-rendering="crispEdges"/>
<text x="1122.7" y="359" font-size="16" fill="#ff0000" font-family="'Liberation Sans', Arial, sans-serif" textLength="57.3" lengthAdjust="spacingAndGlyphs">25948.6</text>
<rect x="1114.5" y="55.5" width="73" height="24" fill="#fff" stroke="#ff0000" stroke-width="1" shape-rendering="crispEdges"/>
<text x="1115.6" y="76" font-size="21.5" fill="#ff0000" font-family="'Liberation Sans', Arial, sans-serif" textLength="70.7" lengthAdjust="spacingAndGlyphs">30018.4</text>
<rect x="1054.5" y="147.5" width="2" height="3" fill="#fff" stroke="#ff0000" stroke-width="1" shape-rendering="crispEdges"/>
<rect x="1111.5" y="65.5" width="2" height="4" fill="#fff" stroke="#ff0000" stroke-width="1" shape-rendering="crispEdges"/>
<rect x="1520.5" y="68.5" width="110" height="24" fill="none" stroke="#404040" stroke-width="1" shape-rendering="crispEdges"/>
<text x="1521" y="87.5" font-size="21.5" fill="#00ff00" font-family="'Liberation Sans','Noto Sans CJK SC','WenQuanYi Zen Hei',sans-serif" font-weight="300" textLength="106" lengthAdjust="spacing">多空转折点</text>
<rect x="1573" y="66" width="3" height="2" fill="#ff80ff"/>
</g>
<g id="toolbar">
<rect x="0" y="0" width="1728" height="22" fill="#f0f0f0"/>
<rect x="0" y="22" width="1728" height="1" fill="#b9b9b9" shape-rendering="crispEdges"/>
<rect x="0" y="23" width="1728" height="1" fill="#7a7a7a" shape-rendering="crispEdges"/>
<rect x="0" y="24" width="1728" height="2" fill="#ffffff" shape-rendering="crispEdges"/>
<rect x="-6.5" y="3.5" width="11" height="13" rx="1" fill="#fff" stroke="#3a78c8" stroke-width="1.4"/>
<rect x="0" y="6" width="4" height="1" fill="#b8d0f0"/>
<rect x="0" y="8" width="4" height="1" fill="#b8d0f0"/>
<rect x="0" y="10" width="4" height="1" fill="#b8d0f0"/>
<rect x="0" y="12" width="4" height="1" fill="#b8d0f0"/>
<rect x="17.5" y="2.5" width="12" height="13" fill="#fff" stroke="#b0a890" stroke-width="1"/>
<path d="M20 4v9M27 4v6" stroke="#606060" stroke-width="1" fill="none"/>
<line x1="29.5" y1="15" x2="33.5" y2="19" stroke="#c8a020" stroke-width="2.4"/>
<circle cx="25.2" cy="11" r="5" fill="#e4f2fb" stroke="#5a96dc" stroke-width="1.1"/>
<rect x="24" y="8" width="2" height="6" fill="#9ab0c0"/>
<rect x="42" y="1" width="1" height="19" fill="#a0a0a0" shape-rendering="crispEdges"/>
<path d="M52.5 2.5h8l3 3v10.5h-11z" fill="#fff" stroke="#707070" stroke-width="1"/>
<rect x="54" y="5" width="3" height="1" fill="#808080"/>
<rect x="54" y="8" width="6" height="1" fill="#909090"/>
<rect x="54" y="10" width="5" height="1" fill="#909090"/>
<rect x="54" y="12" width="4" height="1" fill="#909090"/>
<path d="M60.5 8.5h3v4h4v3h-4v4h-3v-4h-4v-3h4z" fill="#22cc22" stroke="#0a8a0a" stroke-width="1"/>
<text x="71" y="14" font-size="12" fill="#000" font-family="'Liberation Sans','Noto Sans CJK SC','WenQuanYi Zen Hei',sans-serif">新订单</text>
<defs><linearGradient id="ggold" x1="0" y1="0" x2="1" y2="1"><stop offset="0" stop-color="#fff0a0"/><stop offset="0.35" stop-color="#f0c830"/><stop offset="1" stop-color="#c88a10"/></linearGradient><linearGradient id="gcloud" x1="0" y1="0" x2="0" y2="1"><stop offset="0" stop-color="#ffffff"/><stop offset="1" stop-color="#b8c4d8"/></linearGradient><linearGradient id="gblue" x1="0" y1="0" x2="1" y2="1"><stop offset="0" stop-color="#50b8ff"/><stop offset="1" stop-color="#0a78e0"/></linearGradient></defs>
<path d="M124.8 3.2 L134.2 11.6 L126.6 17.2 L119.3 11.8 Q122 8 124.8 3.2 Z" fill="url(#ggold)" stroke="#9a5e10" stroke-width="1"/>
<path d="M120 12.6 L126.6 17.6 L134.5 12" fill="none" stroke="#e8d8a0" stroke-width="1"/>
<path d="M148.8 3 h9 l2 1.5 v7 h-11z" fill="url(#gblue)" stroke="#1a70d0" stroke-width="0.6"/>
<path d="M148.8 3 l3 2.3 v6" fill="none" stroke="#d0ecff" stroke-width="0.8"/>
<rect x="154" y="7" width="4" height="1" fill="#e0f2ff"/>
<path d="M148 17.5 h13.5 a2.6 2.6 0 0 0 0 -5 a3 3 0 0 0 -4 -1.8 a3.6 3.6 0 0 0 -6.5 0.6 a2.6 2.6 0 0 0 -3 3.2 a1.6 1.6 0 0 0 0 3z" fill="url(#gcloud)" stroke="#4a5e8c" stroke-width="1"/>
<path d="M183 10 L183 18 A8 8 0 0 0 191 10 Z" fill="#8fd08f" opacity="0.75"/>
<circle cx="183" cy="10" r="7.5" fill="none" stroke="#5b8ee0" stroke-width="1" opacity="0.55"/>
<circle cx="183" cy="10" r="4.8" fill="none" stroke="#5b8ee0" stroke-width="1" opacity="0.6"/>
<path d="M191 10 A8 8 0 0 1 183 18" fill="none" stroke="#2a8a3a" stroke-width="1.2"/>
<circle cx="183" cy="10" r="2" fill="#2050c8"/>
<rect x="183" y="10" width="1.4" height="8" fill="#18a018"/>
<path d="M203 10 L212 17.5 L217 10 Z" fill="#f6e060" stroke="#c89a10" stroke-width="0.8"/>
<ellipse cx="210" cy="7.2" rx="7.6" ry="2.6" fill="#58b0e8" stroke="#2a78b0" stroke-width="0.8"/>
<ellipse cx="210" cy="5" rx="3.6" ry="2.8" fill="#7cc4f2" stroke="#2a78b0" stroke-width="0.8"/>
<circle cx="214.6" cy="13.5" r="4.3" fill="#d82008" stroke="#a01000" stroke-width="0.6"/>
<rect x="213.3" y="12.2" width="2.7" height="2.7" fill="#fff"/>
<text x="224" y="14" font-size="12" fill="#000" font-family="'Liberation Sans','Noto Sans CJK SC','WenQuanYi Zen Hei',sans-serif">自动交易</text>
<rect x="278" y="0" width="1" height="22" fill="#a0a0a0" shape-rendering="crispEdges"/>
<rect x="281" y="1" width="4" height="1" fill="#a8a8a8" shape-rendering="crispEdges"/>
<rect x="281" y="3" width="4" height="1" fill="#a8a8a8" shape-rendering="crispEdges"/>
<rect x="281" y="5" width="4" height="1" fill="#a8a8a8" shape-rendering="crispEdges"/>
<rect x="281" y="7" width="4" height="1" fill="#a8a8a8" shape-rendering="crispEdges"/>
<rect x="281" y="9" width="4" height="1" fill="#a8a8a8" shape-rendering="crispEdges"/>
<rect x="281" y="11" width="4" height="1" fill="#a8a8a8" shape-rendering="crispEdges"/>
<rect x="281" y="13" width="4" height="1" fill="#a8a8a8" shape-rendering="crispEdges"/>
<rect x="281" y="15" width="4" height="1" fill="#a8a8a8" shape-rendering="crispEdges"/>
<rect x="281" y="17" width="4" height="1" fill="#a8a8a8" shape-rendering="crispEdges"/>
<rect x="281" y="19" width="4" height="1" fill="#a8a8a8" shape-rendering="crispEdges"/>
<path d="M296.5 4 v14 M294 15.5 h14" stroke="#404040" stroke-width="1.2" fill="none"/>
<polygon points="296.5,3 294.8,6 298.2,6" fill="#404040"/>
<polygon points="309,15.5 306,13.8 306,17.2" fill="#404040"/>
<path d="M302.5 6.5 h2 M302.5 6 v7 M300 12.5 h2.5" stroke="#109010" stroke-width="1.2" fill="none"/>
<rect x="316" y="1" width="1" height="19" fill="#a0a0a0" shape-rendering="crispEdges"/>
<rect x="317" y="0" width="24" height="20" fill="#f9f9f9" shape-rendering="crispEdges"/>
<path d="M324.5 4 v14 M322 15.5 h14" stroke="#404040" stroke-width="1.2" fill="none"/>
<polygon points="324.5,3 322.8,6 326.2,6" fill="#404040"/>
<polygon points="337,15.5 334,13.8 334,17.2" fill="#404040"/>
<rect x="328.5" y="4.5" width="4" height="7" fill="#30e050" stroke="#109010" stroke-width="1"/>
<rect x="330" y="2" width="1" height="12" fill="#109010"/>
<path d="M352.5 4 v14 M350 15.5 h14" stroke="#404040" stroke-width="1.2" fill="none"/>
<polygon points="352.5,3 350.8,6 354.2,6" fill="#404040"/>
<polygon points="365,15.5 362,13.8 362,17.2" fill="#404040"/>
<path d="M352 12.5 Q357 5 361 7 T364 11" stroke="#20a020" stroke-width="1.2" fill="none"/>
<rect x="373" y="1" width="1" height="19" fill="#a0a0a0" shape-rendering="crispEdges"/>
<line x1="392.0" y1="12.5" x2="396.5" y2="17" stroke="#c8a020" stroke-width="2.6"/>
<circle cx="388.5" cy="8" r="5.3" fill="#cfe6fb" stroke="#3d7ed8" stroke-width="1.4"/>
<rect x="385.5" y="7" width="6" height="2" fill="#3d7ed8"/>
<rect x="387.5" y="5" width="2" height="6" fill="#3d7ed8"/>
<line x1="419.5" y1="12.5" x2="424" y2="17" stroke="#c8a020" stroke-width="2.6"/>
<circle cx="416" cy="8" r="5.3" fill="#cfe6fb" stroke="#3d7ed8" stroke-width="1.4"/>
<rect x="413" y="7" width="6" height="2" fill="#3d7ed8"/>
<rect x="438" y="2" width="8" height="8" fill="#30a030"/>
<rect x="440" y="6" width="5" height="2" fill="#fff"/>
<rect x="446" y="2" width="8" height="8" fill="#2060d0"/>
<rect x="448" y="6" width="5" height="2" fill="#fff"/>
<rect x="438" y="10" width="8" height="8" fill="#2060d0"/>
<rect x="440" y="14" width="5" height="2" fill="#fff"/>
<rect x="446" y="10" width="8" height="8" fill="#30a030"/>
<rect x="448" y="14" width="5" height="2" fill="#fff"/>
<rect x="463" y="1" width="1" height="19" fill="#a0a0a0" shape-rendering="crispEdges"/>
<rect x="468" y="1" width="1" height="19" fill="#a0a0a0" shape-rendering="crispEdges"/>
<rect x="469" y="0" width="24" height="20" fill="#f9f9f9" shape-rendering="crispEdges"/>
<path d="M476.5 4 v14 M474 15.5 h14" stroke="#404040" stroke-width="1.2" fill="none"/>
<polygon points="476.5,3 474.8,6 478.2,6" fill="#404040"/>
<polygon points="489,15.5 486,13.8 486,17.2" fill="#404040"/>
<polygon points="482,6 482,12 486,9" fill="#20c020" stroke="#108010" stroke-width="0.8"/>
<rect x="496" y="1" width="1" height="19" fill="#a0a0a0" shape-rendering="crispEdges"/>
<rect x="497" y="0" width="24" height="20" fill="#f9f9f9" shape-rendering="crispEdges"/>
<path d="M504.5 4 v14 M502 15.5 h14" stroke="#404040" stroke-width="1.2" fill="none"/>
<polygon points="504.5,3 502.8,6 506.2,6" fill="#404040"/>
<polygon points="517,15.5 514,13.8 514,17.2" fill="#404040"/>
<rect x="510" y="4" width="1" height="10" fill="#2070b0"/>
<path d="M516 9 h-4 M514 7 l-2 2 l2 2" stroke="#e05010" stroke-width="1.3" fill="none"/>
<rect x="525" y="1" width="1" height="19" fill="#a0a0a0" shape-rendering="crispEdges"/>
<path d="M535.5 2.5h7l3 3v10.5h-10z" fill="#fff" stroke="#707070" stroke-width="1"/>
<text x="537" y="13" font-size="9" font-style="italic" fill="#404040" font-family="Liberation Serif, serif">f</text>
<path d="M542.5 8.5h3v4h4v3h-4v4h-3v-4h-4v-3h4z" fill="#22cc22" stroke="#0a8a0a" stroke-width="1"/>
<polygon points="557,9 563,9 560,12.5" fill="#000"/>
<circle cx="581" cy="10" r="7.3" fill="#fff" stroke="#1a70d8" stroke-width="2.2"/>
<path d="M581 5.5 v5 h3" stroke="#303030" stroke-width="1.1" fill="none"/>
<polygon points="596,9 602,9 599,12.5" fill="#000"/>
<rect x="612.5" y="3.5" width="15" height="13" fill="#fff" stroke="#3a70c0" stroke-width="1"/>
<rect x="613" y="4" width="15" height="2" fill="#6a9ee0"/>
<path d="M614 10 l3 -1 l2 1 l3 -2 l3 1" stroke="#b02010" stroke-width="1" fill="none"/>
<rect x="613" y="11" width="14" height="1" fill="#3a70c0"/>
<path d="M614 15 l3 -1 l2 1 l3 -3 l3 3" stroke="#20a020" stroke-width="1" fill="none"/>
<polygon points="635,9 641,9 638,12.5" fill="#000"/>
<rect x="646" y="0" width="1" height="22" fill="#a0a0a0" shape-rendering="crispEdges"/>
<rect x="650" y="1" width="4" height="1" fill="#a8a8a8" shape-rendering="crispEdges"/>
<rect x="650" y="3" width="4" height="1" fill="#a8a8a8" shape-rendering="crispEdges"/>
<rect x="650" y="5" width="4" height="1" fill="#a8a8a8" shape-rendering="crispEdges"/>
<rect x="650" y="7" width="4" height="1" fill="#a8a8a8" shape-rendering="crispEdges"/>
<rect x="650" y="9" width="4" height="1" fill="#a8a8a8" shape-rendering="crispEdges"/>
<rect x="650" y="11" width="4" height="1" fill="#a8a8a8" shape-rendering="crispEdges"/>
<rect x="650" y="13" width="4" height="1" fill="#a8a8a8" shape-rendering="crispEdges"/>
<rect x="650" y="15" width="4" height="1" fill="#a8a8a8" shape-rendering="crispEdges"/>
<rect x="650" y="17" width="4" height="1" fill="#a8a8a8" shape-rendering="crispEdges"/>
<rect x="650" y="19" width="4" height="1" fill="#a8a8a8" shape-rendering="crispEdges"/>
<rect x="656" y="1" width="1" height="19" fill="#a0a0a0" shape-rendering="crispEdges"/>
<rect x="657" y="0" width="24" height="20" fill="#f9f9f9" shape-rendering="crispEdges"/>
<path d="M664 3 L664 15 L667 12 L669.5 17 L671.5 16 L669 11 L673 11 Z" fill="#505050"/>
<rect x="689" y="10" width="15" height="1" fill="#404040"/>
<rect x="696" y="3" width="1" height="15" fill="#404040"/>
<rect x="696" y="10" width="1" height="1" fill="#f0f0f0"/>
<rect x="713" y="1" width="1" height="19" fill="#a0a0a0" shape-rendering="crispEdges"/>
<rect x="730" y="4" width="1" height="13" fill="#404040"/>
<rect x="753" y="10" width="12" height="1" fill="#404040"/>
<line x1="781" y1="17" x2="793" y2="5" stroke="#404040" stroke-width="1"/>
<path d="M806.6 11.5 L814.6 4.2 M811.8 16.7 L820.8 8.3" stroke="#505050" stroke-width="1" fill="none"/>
<path d="M809.6 9.3 L809.2 16.6 M813.2 6.4 L812.7 13.6 M818.6 2 L818.9 9.6" stroke="#404040" stroke-width="1.3" fill="none"/>
<text x="817.8" y="19" font-size="7.5" font-weight="bold" fill="#404040" font-family="Liberation Sans, sans-serif">E</text>
<rect x="836" y="3" width="1" height="1" fill="#505050" shape-rendering="crispEdges"/>
<rect x="838" y="3" width="1" height="1" fill="#505050" shape-rendering="crispEdges"/>
<rect x="840" y="3" width="1" height="1" fill="#505050" shape-rendering="crispEdges"/>
<rect x="842" y="3" width="1" height="1" fill="#505050" shape-rendering="crispEdges"/>
<rect x="844" y="3" width="1" height="1" fill="#505050" shape-rendering="crispEdges"/>
<rect x="846" y="3" width="1" height="1" fill="#505050" shape-rendering="crispEdges"/>
<rect x="848" y="3" width="1" height="1" fill="#505050" shape-rendering="crispEdges"/>
<rect x="836" y="6" width="1" height="1" fill="#505050" shape-rendering="crispEdges"/>
<rect x="838" y="6" width="1" height="1" fill="#505050" shape-rendering="crispEdges"/>
<rect x="840" y="6" width="1" height="1" fill="#505050" shape-rendering="crispEdges"/>
<rect x="842" y="6" width="1" height="1" fill="#505050" shape-rendering="crispEdges"/>
<rect x="844" y="6" width="1" height="1" fill="#505050" shape-rendering="crispEdges"/>
<rect x="846" y="6" width="1" height="1" fill="#505050" shape-rendering="crispEdges"/>
<rect x="848" y="6" width="1" height="1" fill="#505050" shape-rendering="crispEdges"/>
<rect x="836" y="10" width="1" height="1" fill="#505050" shape-rendering="crispEdges"/>
<rect x="838" y="10" width="1" height="1" fill="#505050" shape-rendering="crispEdges"/>
<rect x="840" y="10" width="1" height="1" fill="#505050" shape-rendering="crispEdges"/>
<rect x="842" y="10" width="1" height="1" fill="#505050" shape-rendering="crispEdges"/>
<rect x="844" y="10" width="1" height="1" fill="#505050" shape-rendering="crispEdges"/>
<rect x="846" y="10" width="1" height="1" fill="#505050" shape-rendering="crispEdges"/>
<rect x="848" y="10" width="1" height="1" fill="#505050" shape-rendering="crispEdges"/>
<rect x="836" y="14" width="1" height="1" fill="#505050" shape-rendering="crispEdges"/>
<rect x="838" y="14" width="1" height="1" fill="#505050" shape-rendering="crispEdges"/>
<rect x="840" y="14" width="1" height="1" fill="#505050" shape-rendering="crispEdges"/>
<rect x="842" y="14" width="1" height="1" fill="#505050" shape-rendering="crispEdges"/>
<rect x="844" y="14" width="1" height="1" fill="#505050" shape-rendering="crispEdges"/>
<text x="845.6" y="19" font-size="7.5" font-weight="bold" fill="#404040" font-family="Liberation Sans, sans-serif">F</text>
<text x="866.5" y="15" font-size="11" font-weight="bold" fill="#404040" font-family="Liberation Sans, sans-serif">A</text>
<rect x="892.5" y="4.5" width="12" height="12" fill="none" stroke="#404040" stroke-width="1" stroke-dasharray="1 1"/>
<text x="894.3" y="14.5" font-size="10.5" font-weight="bold" fill="#404040" font-family="Liberation Sans, sans-serif">T</text>
<polygon points="921,7 924.5,4 928,7 924.5,9" fill="#404040"/>
<path d="M923 11 l2 2 l4 -5" stroke="#404040" stroke-width="1.2" fill="none"/>
<polygon points="927,13 930.5,11 934,13 930.5,17" fill="#404040"/>
<polygon points="941,9 947,9 944,12.5" fill="#000"/>
<rect x="952" y="0" width="1" height="22" fill="#a0a0a0" shape-rendering="crispEdges"/>
<rect x="956" y="1" width="4" height="1" fill="#a8a8a8" shape-rendering="crispEdges"/>
<rect x="956" y="3" width="4" height="1" fill="#a8a8a8" shape-rendering="crispEdges"/>
<rect x="956" y="5" width="4" height="1" fill="#a8a8a8" shape-rendering="crispEdges"/>
<rect x="956" y="7" width="4" height="1" fill="#a8a8a8" shape-rendering="crispEdges"/>
<rect x="956" y="9" width="4" height="1" fill="#a8a8a8" shape-rendering="crispEdges"/>
<rect x="956" y="11" width="4" height="1" fill="#a8a8a8" shape-rendering="crispEdges"/>
<rect x="956" y="13" width="4" height="1" fill="#a8a8a8" shape-rendering="crispEdges"/>
<rect x="956" y="15" width="4" height="1" fill="#a8a8a8" shape-rendering="crispEdges"/>
<rect x="956" y="17" width="4" height="1" fill="#a8a8a8" shape-rendering="crispEdges"/>
<rect x="956" y="19" width="4" height="1" fill="#a8a8a8" shape-rendering="crispEdges"/>
<rect x="1130" y="0" width="1" height="20" fill="#a0a0a0" shape-rendering="crispEdges"/>
<rect x="1131" y="0" width="24" height="20" fill="#f9f9f9" shape-rendering="crispEdges"/>
<text x="0" y="0" transform="translate(967.7,14) scale(1,1.12)" font-size="10" fill="#454545" font-family="'Liberation Sans', Arial, sans-serif" textLength="12.5" lengthAdjust="spacingAndGlyphs">M1</text>
<text x="0" y="0" transform="translate(995.7,14) scale(1,1.12)" font-size="10" fill="#454545" font-family="'Liberation Sans', Arial, sans-serif" textLength="12.3" lengthAdjust="spacingAndGlyphs">M5</text>
<text x="0" y="0" transform="translate(1021.5,14) scale(1,1.12)" font-size="10" fill="#454545" font-family="'Liberation Sans', Arial, sans-serif" textLength="17.5" lengthAdjust="spacingAndGlyphs">M15</text>
<text x="0" y="0" transform="translate(1049.6,14) scale(1,1.12)" font-size="10" fill="#454545" font-family="'Liberation Sans', Arial, sans-serif" textLength="17.7" lengthAdjust="spacingAndGlyphs">M30</text>
<text x="0" y="0" transform="translate(1080.4,14) scale(1,1.12)" font-size="10" fill="#454545" font-family="'Liberation Sans', Arial, sans-serif" textLength="11.6" lengthAdjust="spacingAndGlyphs">H1</text>
<text x="0" y="0" transform="translate(1107.5,14) scale(1,1.12)" font-size="10" fill="#454545" font-family="'Liberation Sans', Arial, sans-serif" textLength="12.5" lengthAdjust="spacingAndGlyphs">H4</text>
<text x="0" y="0" transform="translate(1136.4,14) scale(1,1.12)" font-size="10" fill="#454545" font-family="'Liberation Sans', Arial, sans-serif" textLength="11.9" lengthAdjust="spacingAndGlyphs">D1</text>
<text x="0" y="0" transform="translate(1164,14) scale(1,1.12)" font-size="10" fill="#454545" font-family="'Liberation Sans', Arial, sans-serif" textLength="14" lengthAdjust="spacingAndGlyphs">W1</text>
<text x="0" y="0" transform="translate(1190.5,14) scale(1,1.12)" font-size="10" fill="#454545" font-family="'Liberation Sans', Arial, sans-serif" textLength="14.9" lengthAdjust="spacingAndGlyphs">MN</text>
<rect x="1213" y="0" width="1" height="22" fill="#a0a0a0" shape-rendering="crispEdges"/>
<circle cx="1683.5" cy="7.3" r="3.6" fill="#fff" stroke="#2a6ad8" stroke-width="1.3"/>
<line x1="1680.8" y1="10" x2="1676.5" y2="14.5" stroke="#2a6ad8" stroke-width="2"/>
<path d="M1701 11 a6 4.5 0 1 1 4 4.5 l-2 3 l0 -3.5 a6 4.5 0 0 1 -2 -4" fill="#e8e8ee" stroke="#a0a0a8" stroke-width="1"/>
<circle cx="1714.5" cy="7.2" r="8.2" fill="#d83a1c"/>
<text x="1714.5" y="12" font-size="12" fill="#fff" font-family="Liberation Serif, serif" text-anchor="middle" font-weight="bold">1</text>
</g>
<defs>
<linearGradient id="gbtn" x1="0" y1="0" x2="0" y2="1"><stop offset="0" stop-color="#5858ff"/><stop offset="1" stop-color="#3636e2"/></linearGradient>
<linearGradient id="gbox" x1="0" y1="0" x2="0" y2="1"><stop offset="0" stop-color="#3a3ae6"/><stop offset="0.5" stop-color="#2222d0"/><stop offset="1" stop-color="#0808b0"/></linearGradient>
<linearGradient id="gspin" x1="0" y1="0" x2="0" y2="1"><stop offset="0" stop-color="#f4f4f4"/><stop offset="0.45" stop-color="#ececec"/><stop offset="0.5" stop-color="#dcdcdc"/><stop offset="1" stop-color="#d2d2d2"/></linearGradient>
</defs>
<g shape-rendering="crispEdges">
<rect x="0" y="40" width="215" height="72" fill="#ffffff"/>
<rect x="0" y="70" width="104" height="40" fill="#0000a0"/>
<rect x="0" y="71" width="103" height="38" fill="url(#gbox)"/>
<rect x="105" y="70" width="109" height="40" fill="#0000a0"/>
<rect x="106" y="71" width="107" height="38" fill="url(#gbox)"/>
<rect x="103" y="70" width="2" height="41" fill="#ffffff"/>
<rect x="0" y="46" width="46" height="24" fill="#0000a0"/>
<rect x="0" y="47" width="45" height="22" fill="url(#gbtn)"/>
<rect x="0" y="69" width="42" height="1" fill="#0000a0"/>
<rect x="0" y="70" width="42" height="1" fill="#6a6aff"/>
<rect x="42" y="69" width="3" height="1" fill="#3838e4"/>
<rect x="161" y="46" width="53" height="24" fill="#0000a0"/>
<rect x="162" y="47" width="51" height="22" fill="url(#gbtn)"/>
<rect x="165" y="69" width="45" height="1" fill="#0000a0"/>
<rect x="165" y="70" width="45" height="1" fill="#6a6aff"/>
<rect x="46" y="46" width="115" height="24" fill="#ffffff"/>
<rect x="48" y="46" width="111" height="22" fill="#a8a8a8"/>
<rect x="49" y="47" width="109" height="20" fill="#ffffff"/>
<rect x="50" y="48" width="18" height="18" fill="url(#gspin)"/>
<rect x="69" y="47" width="1" height="20" fill="#a8a8a8"/>
<rect x="137" y="47" width="1" height="20" fill="#a8a8a8"/>
<rect x="139" y="48" width="18" height="18" fill="url(#gspin)"/>
</g>
<polygon points="56,55 61,55 58.5,58" fill="#4a64c8"/>
<polygon points="145.5,58 150.5,58 148,55" fill="#4a64c8"/>
<text x="110.7" y="61" font-size="12.5" fill="#000" font-family="'Liberation Sans', Arial, sans-serif" textLength="22.8" lengthAdjust="spacingAndGlyphs">1.00</text>
<text x="6.7" y="62" font-size="12.5" fill="#fff" font-family="'Liberation Sans', Arial, sans-serif" textLength="25.3" lengthAdjust="spacingAndGlyphs">SELL</text>
<text x="174.7" y="62" font-size="12.5" fill="#fff" font-family="'Liberation Sans', Arial, sans-serif" textLength="23.3" lengthAdjust="spacingAndGlyphs">BUY</text>
<text x="11" y="101" font-size="12.5" fill="#fff" font-family="'Liberation Sans', Arial, sans-serif" textLength="33.6" lengthAdjust="spacingAndGlyphs" font-weight="bold">30157</text>
<text x="120.6" y="101" font-size="12.5" fill="#fff" font-family="'Liberation Sans', Arial, sans-serif" textLength="33.9" lengthAdjust="spacingAndGlyphs" font-weight="bold">30165</text>
<rect x="50" y="97" width="4" height="4" fill="#fff" shape-rendering="crispEdges"/>
<rect x="161" y="97" width="4" height="4" fill="#fff" shape-rendering="crispEdges"/>
<text x="57.5" y="101" font-size="33" fill="#fff" font-family="'Liberation Sans', Arial, sans-serif" textLength="14.2" lengthAdjust="spacingAndGlyphs">5</text>
<text x="168.2" y="101" font-size="33" fill="#fff" font-family="'Liberation Sans', Arial, sans-serif" textLength="14.2" lengthAdjust="spacingAndGlyphs">5</text>
</svg>
</body></html>
